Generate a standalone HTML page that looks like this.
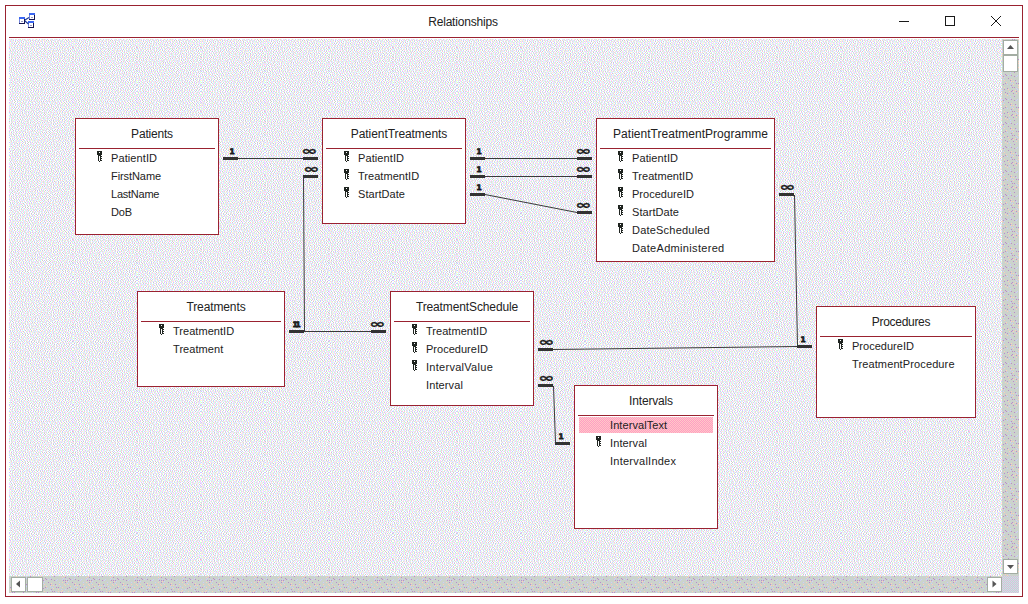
<!DOCTYPE html><html><head><meta charset="utf-8"><title>Relationships</title><style>
html,body{margin:0;padding:0;background:#fff;}
body{width:1028px;height:604px;position:relative;overflow:hidden;font-family:"Liberation Sans",sans-serif;color:#222;}
#win{position:absolute;left:5px;top:5px;width:1016px;height:590px;border:1px solid #9A2230;background:#fff;}
#sep{position:absolute;left:9px;top:37px;width:1010px;height:1px;background:#9A2230;}
#ttl{position:absolute;left:363px;top:13px;width:200px;height:18px;line-height:18px;text-align:center;font-size:12px;white-space:nowrap;}
svg{position:absolute;left:0;top:0;}
.t{position:absolute;box-sizing:border-box;border:1px solid #9A2230;background:#fff;}
.h{position:absolute;left:10px;right:0;top:1px;height:29px;line-height:29px;text-align:center;font-size:12px;white-space:nowrap;}
.u{position:absolute;left:3px;right:3px;top:29px;height:1px;background:#9A2230;}
.f{position:absolute;left:35px;height:18px;line-height:18px;font-size:11px;white-space:nowrap;}
.s{position:absolute;left:4px;right:4px;height:16px;background:repeating-conic-gradient(#FF9CC4 0 25%,#FFCAC6 0 50%) 0 0/2px 2px;}
</style></head><body>
<div id="win"></div><div id="sep"></div><div id="ttl" style="letter-spacing:-0.19px">Relationships</div>
<svg width="1028" height="604" viewBox="0 0 1028 604">
<defs><pattern id="d" x="9" y="39" width="64" height="64" patternUnits="userSpaceOnUse" shape-rendering="crispEdges"><rect width="64" height="64" fill="#fff"/><path fill="#FFCCFF" d="M0 0h1v1h-1zM4 0h1v1h-1zM7 0h1v1h-1zM10 0h1v1h-1zM18 0h1v1h-1zM23 0h1v1h-1zM42 0h1v1h-1zM45 0h1v1h-1zM53 0h1v1h-1zM1 1h1v1h-1zM10 1h1v1h-1zM15 1h1v1h-1zM17 1h1v1h-1zM25 1h1v1h-1zM32 1h1v1h-1zM35 1h1v1h-1zM43 1h1v1h-1zM45 1h1v1h-1zM48 1h1v1h-1zM50 1h1v1h-1zM52 1h1v1h-1zM55 1h1v1h-1zM3 2h1v1h-1zM12 2h1v1h-1zM27 2h1v1h-1zM31 2h1v1h-1zM33 2h1v1h-1zM36 2h1v1h-1zM39 2h1v1h-1zM49 2h1v1h-1zM52 2h1v1h-1zM54 2h1v1h-1zM0 3h1v1h-1zM2 3h1v1h-1zM5 3h1v1h-1zM16 3h1v1h-1zM20 3h1v1h-1zM23 3h1v1h-1zM26 3h1v1h-1zM35 3h1v1h-1zM38 3h1v1h-1zM40 3h1v1h-1zM46 3h1v1h-1zM48 3h1v1h-1zM51 3h1v1h-1zM55 3h1v1h-1zM57 3h1v1h-1zM62 3h1v1h-1zM10 4h1v1h-1zM17 4h1v1h-1zM23 4h1v1h-1zM25 4h1v1h-1zM30 4h1v1h-1zM41 4h1v1h-1zM44 4h1v1h-1zM53 4h1v1h-1zM56 4h1v1h-1zM60 4h1v1h-1zM62 4h1v1h-1zM0 5h1v1h-1zM2 5h1v1h-1zM12 5h1v1h-1zM28 5h1v1h-1zM30 5h1v1h-1zM33 5h1v1h-1zM35 5h1v1h-1zM38 5h1v1h-1zM40 5h1v1h-1zM42 5h1v1h-1zM44 5h1v1h-1zM48 5h1v1h-1zM59 5h1v1h-1zM61 5h1v1h-1zM2 6h1v1h-1zM6 6h1v1h-1zM14 6h1v1h-1zM18 6h1v1h-1zM20 6h1v1h-1zM23 6h1v1h-1zM26 6h1v1h-1zM31 6h1v1h-1zM36 6h1v1h-1zM38 6h1v1h-1zM0 7h1v1h-1zM3 7h1v1h-1zM5 7h1v1h-1zM11 7h1v1h-1zM22 7h1v1h-1zM24 7h1v1h-1zM27 7h1v1h-1zM29 7h1v1h-1zM50 7h1v1h-1zM61 7h1v1h-1zM9 8h1v1h-1zM15 8h1v1h-1zM17 8h2v1h-2zM20 8h1v1h-1zM35 8h1v1h-1zM37 8h1v1h-1zM40 8h1v1h-1zM42 8h1v1h-1zM46 8h1v1h-1zM48 8h1v1h-1zM55 8h1v1h-1zM57 8h1v1h-1zM3 9h1v1h-1zM11 9h1v1h-1zM16 9h1v1h-1zM32 9h1v1h-1zM34 9h1v1h-1zM36 9h1v1h-1zM41 9h1v1h-1zM43 9h1v1h-1zM47 9h1v1h-1zM50 9h1v1h-1zM63 9h1v1h-1zM1 10h1v1h-1zM4 10h1v1h-1zM7 10h1v1h-1zM17 10h1v1h-1zM20 10h1v1h-1zM30 10h1v1h-1zM37 10h1v1h-1zM41 10h1v1h-1zM52 10h1v1h-1zM3 11h1v1h-1zM11 11h1v1h-1zM13 11h1v1h-1zM16 11h1v1h-1zM40 11h1v1h-1zM43 11h1v1h-1zM45 11h1v1h-1zM55 11h1v1h-1zM0 12h1v1h-1zM4 12h1v1h-1zM6 12h1v1h-1zM14 12h1v1h-1zM23 12h1v1h-1zM30 12h1v1h-1zM32 12h1v1h-1zM37 12h1v1h-1zM41 12h1v1h-1zM44 12h1v1h-1zM46 12h1v1h-1zM54 12h1v1h-1zM56 12h1v1h-1zM63 12h1v1h-1zM1 13h1v1h-1zM10 13h1v1h-1zM14 13h1v1h-1zM16 13h1v1h-1zM27 13h1v1h-1zM34 13h1v1h-1zM37 13h1v1h-1zM43 13h1v1h-1zM4 14h1v1h-1zM9 14h1v1h-1zM13 14h1v1h-1zM15 14h1v1h-1zM21 14h1v1h-1zM23 14h1v1h-1zM33 14h1v1h-1zM35 14h1v1h-1zM40 14h1v1h-1zM46 14h1v1h-1zM52 14h1v1h-1zM56 14h1v1h-1zM58 14h1v1h-1zM2 15h1v1h-1zM11 15h1v1h-1zM23 15h1v1h-1zM26 15h1v1h-1zM32 15h1v1h-1zM37 15h1v1h-1zM39 15h1v1h-1zM42 15h1v1h-1zM44 15h1v1h-1zM47 15h1v1h-1zM51 15h1v1h-1zM3 16h1v1h-1zM7 16h1v1h-1zM14 16h1v1h-1zM20 16h1v1h-1zM22 16h1v1h-1zM24 16h1v1h-1zM29 16h1v1h-1zM31 16h1v1h-1zM35 16h1v1h-1zM38 16h1v1h-1zM41 16h1v1h-1zM44 16h1v1h-1zM46 16h1v1h-1zM7 17h1v1h-1zM10 17h1v1h-1zM13 17h1v1h-1zM15 17h1v1h-1zM18 17h1v1h-1zM35 17h1v1h-1zM37 17h1v1h-1zM47 17h1v1h-1zM49 17h1v1h-1zM59 17h1v1h-1zM3 18h2v1h-2zM6 18h1v1h-1zM15 18h1v1h-1zM17 18h1v1h-1zM19 18h1v1h-1zM22 18h1v1h-1zM26 18h1v1h-1zM29 18h1v1h-1zM34 18h1v1h-1zM36 18h1v1h-1zM46 18h1v1h-1zM51 18h1v1h-1zM53 18h1v1h-1zM57 18h1v1h-1zM59 18h1v1h-1zM61 18h1v1h-1zM63 18h1v1h-1zM0 19h1v1h-1zM2 19h1v1h-1zM18 19h1v1h-1zM38 19h1v1h-1zM40 19h1v1h-1zM59 19h1v1h-1zM10 20h1v1h-1zM17 20h1v1h-1zM19 20h1v1h-1zM26 20h1v1h-1zM28 20h1v1h-1zM30 20h1v1h-1zM33 20h1v1h-1zM36 20h1v1h-1zM39 20h1v1h-1zM51 20h1v1h-1zM56 20h1v1h-1zM12 21h1v1h-1zM15 21h1v1h-1zM17 21h1v1h-1zM20 21h1v1h-1zM23 21h2v1h-2zM29 21h1v1h-1zM32 21h1v1h-1zM35 21h1v1h-1zM37 21h1v1h-1zM39 21h1v1h-1zM41 21h1v1h-1zM47 21h1v1h-1zM50 21h1v1h-1zM56 21h1v1h-1zM59 21h1v1h-1zM0 22h1v1h-1zM5 22h1v1h-1zM8 22h1v1h-1zM10 22h1v1h-1zM12 22h1v1h-1zM14 22h1v1h-1zM19 22h1v1h-1zM27 22h1v1h-1zM34 22h1v1h-1zM37 22h1v1h-1zM40 22h1v1h-1zM42 22h1v1h-1zM52 22h1v1h-1zM58 22h1v1h-1zM60 22h1v1h-1zM2 23h1v1h-1zM7 23h1v1h-1zM13 23h1v1h-1zM18 23h1v1h-1zM22 23h1v1h-1zM24 23h1v1h-1zM33 23h1v1h-1zM45 23h1v1h-1zM49 23h1v1h-1zM0 24h1v1h-1zM5 24h1v1h-1zM19 24h1v1h-1zM26 24h1v1h-1zM33 24h1v1h-1zM41 24h1v1h-1zM44 24h1v1h-1zM46 24h1v1h-1zM48 24h1v1h-1zM51 24h1v1h-1zM56 24h1v1h-1zM62 24h1v1h-1zM0 25h1v1h-1zM7 25h1v1h-1zM16 25h1v1h-1zM22 25h1v1h-1zM25 25h1v1h-1zM28 25h1v1h-1zM30 25h1v1h-1zM36 25h1v1h-1zM41 25h1v1h-1zM45 25h1v1h-1zM55 25h1v1h-1zM59 25h1v1h-1zM61 25h1v1h-1zM63 25h1v1h-1zM6 26h1v1h-1zM8 26h1v1h-1zM10 26h1v1h-1zM13 26h1v1h-1zM23 26h1v1h-1zM35 26h1v1h-1zM42 26h1v1h-1zM50 26h1v1h-1zM57 26h1v1h-1zM62 26h1v1h-1zM0 27h1v1h-1zM15 27h1v1h-1zM21 27h1v1h-1zM30 27h1v1h-1zM51 27h1v1h-1zM53 27h1v1h-1zM58 27h1v1h-1zM2 28h1v1h-1zM4 28h1v1h-1zM7 28h1v1h-1zM12 28h1v1h-1zM19 28h1v1h-1zM24 28h1v1h-1zM28 28h1v1h-1zM31 28h1v1h-1zM33 28h1v1h-1zM37 28h1v1h-1zM46 28h1v1h-1zM48 28h1v1h-1zM53 28h1v1h-1zM58 28h1v1h-1zM60 28h1v1h-1zM5 29h1v1h-1zM9 29h1v1h-1zM20 29h1v1h-1zM22 29h1v1h-1zM30 29h1v1h-1zM43 29h1v1h-1zM51 29h1v1h-1zM57 29h1v1h-1zM61 29h1v1h-1zM0 30h1v1h-1zM2 30h1v1h-1zM4 30h1v1h-1zM7 30h1v1h-1zM23 30h1v1h-1zM25 30h1v1h-1zM27 30h1v1h-1zM29 30h1v1h-1zM43 30h1v1h-1zM46 30h1v1h-1zM51 30h1v1h-1zM53 30h1v1h-1zM56 30h1v1h-1zM58 30h1v1h-1zM1 31h1v1h-1zM6 31h1v1h-1zM9 31h1v1h-1zM19 31h1v1h-1zM22 31h1v1h-1zM24 31h1v1h-1zM28 31h1v1h-1zM33 31h1v1h-1zM42 31h1v1h-1zM44 31h1v1h-1zM49 31h1v1h-1zM60 31h1v1h-1zM11 32h1v1h-1zM16 32h1v1h-1zM23 32h1v1h-1zM27 32h1v1h-1zM29 32h1v1h-1zM35 32h1v1h-1zM45 32h1v1h-1zM47 32h1v1h-1zM50 32h1v1h-1zM53 32h1v1h-1zM63 32h1v1h-1zM2 33h1v1h-1zM4 33h1v1h-1zM7 33h1v1h-1zM12 33h1v1h-1zM14 33h1v1h-1zM20 33h1v1h-1zM22 33h1v1h-1zM26 33h1v1h-1zM31 33h1v1h-1zM39 33h1v1h-1zM49 33h1v1h-1zM55 33h1v1h-1zM3 34h1v1h-1zM8 34h1v1h-1zM18 34h1v1h-1zM25 34h1v1h-1zM28 34h1v1h-1zM37 34h1v1h-1zM47 34h1v1h-1zM53 34h1v1h-1zM57 34h1v1h-1zM60 34h1v1h-1zM4 35h1v1h-1zM7 35h1v1h-1zM18 35h1v1h-1zM20 35h1v1h-1zM36 35h1v1h-1zM38 35h1v1h-1zM46 35h1v1h-1zM48 35h1v1h-1zM55 35h1v1h-1zM63 35h1v1h-1zM11 36h1v1h-1zM13 36h1v1h-1zM25 36h1v1h-1zM27 36h1v1h-1zM34 36h1v1h-1zM36 36h1v1h-1zM39 36h1v1h-1zM43 36h1v1h-1zM52 36h1v1h-1zM55 36h1v1h-1zM57 36h1v1h-1zM59 36h1v1h-1zM61 36h1v1h-1zM1 37h1v1h-1zM7 37h1v1h-1zM10 37h1v1h-1zM18 37h1v1h-1zM20 37h1v1h-1zM23 37h1v1h-1zM28 37h1v1h-1zM32 37h1v1h-1zM35 37h1v1h-1zM38 37h1v1h-1zM47 37h1v1h-1zM5 38h1v1h-1zM7 38h1v1h-1zM9 38h1v1h-1zM21 38h1v1h-1zM26 38h1v1h-1zM29 38h1v1h-1zM31 38h1v1h-1zM34 38h1v1h-1zM36 38h1v1h-1zM43 38h1v1h-1zM45 38h1v1h-1zM47 38h1v1h-1zM49 38h1v1h-1zM52 38h1v1h-1zM54 38h1v1h-1zM57 38h1v1h-1zM59 38h1v1h-1zM61 38h1v1h-1zM63 38h1v1h-1zM2 39h1v1h-1zM6 39h1v1h-1zM10 39h1v1h-1zM12 39h1v1h-1zM25 39h1v1h-1zM27 39h1v1h-1zM44 39h1v1h-1zM62 39h1v1h-1zM2 40h1v1h-1zM7 40h1v1h-1zM22 40h1v1h-1zM30 40h1v1h-1zM42 40h1v1h-1zM45 40h1v1h-1zM51 40h1v1h-1zM63 40h1v1h-1zM1 41h1v1h-1zM3 41h1v1h-1zM9 41h1v1h-1zM23 41h1v1h-1zM26 41h1v1h-1zM29 41h1v1h-1zM31 41h1v1h-1zM34 41h1v1h-1zM36 41h1v1h-1zM38 41h1v1h-1zM44 41h1v1h-1zM46 41h1v1h-1zM3 42h1v1h-1zM6 42h1v1h-1zM10 42h1v1h-1zM14 42h1v1h-1zM16 42h1v1h-1zM20 42h1v1h-1zM28 42h1v1h-1zM31 42h1v1h-1zM45 42h1v1h-1zM48 42h1v1h-1zM57 42h1v1h-1zM60 42h1v1h-1zM62 42h1v1h-1zM1 43h1v1h-1zM7 43h1v1h-1zM13 43h1v1h-1zM17 43h1v1h-1zM24 43h1v1h-1zM32 43h1v1h-1zM43 43h1v1h-1zM61 43h1v1h-1zM13 44h1v1h-1zM15 44h1v1h-1zM18 44h1v1h-1zM24 44h1v1h-1zM30 44h1v1h-1zM33 44h1v1h-1zM36 44h1v1h-1zM39 44h1v1h-1zM41 44h1v1h-1zM50 44h1v1h-1zM52 44h1v1h-1zM57 44h1v1h-1zM59 44h1v1h-1zM62 44h1v1h-1zM2 45h1v1h-1zM4 45h1v1h-1zM6 45h1v1h-1zM15 45h1v1h-1zM17 45h1v1h-1zM29 45h1v1h-1zM32 45h1v1h-1zM42 45h1v1h-1zM47 45h1v1h-1zM49 45h1v1h-1zM55 45h1v1h-1zM57 45h1v1h-1zM63 45h1v1h-1zM8 46h1v1h-1zM18 46h1v1h-1zM27 46h1v1h-1zM30 46h1v1h-1zM33 46h1v1h-1zM40 46h1v1h-1zM46 46h1v1h-1zM1 47h1v1h-1zM3 47h1v1h-1zM6 47h1v1h-1zM8 47h1v1h-1zM11 47h1v1h-1zM17 47h1v1h-1zM19 47h1v1h-1zM38 47h1v1h-1zM41 47h1v1h-1zM45 47h1v1h-1zM47 47h1v1h-1zM52 47h1v1h-1zM56 47h1v1h-1zM59 47h1v1h-1zM62 47h1v1h-1zM18 48h1v1h-1zM44 48h1v1h-1zM49 48h1v1h-1zM54 48h1v1h-1zM61 48h1v1h-1zM8 49h1v1h-1zM11 49h1v1h-1zM17 49h1v1h-1zM20 49h1v1h-1zM24 49h1v1h-1zM27 49h1v1h-1zM30 49h1v1h-1zM35 49h1v1h-1zM38 49h1v1h-1zM40 49h1v1h-1zM43 49h1v1h-1zM50 49h1v1h-1zM53 49h1v1h-1zM6 50h1v1h-1zM13 50h1v1h-1zM16 50h1v1h-1zM25 50h1v1h-1zM27 50h1v1h-1zM29 50h1v1h-1zM34 50h1v1h-1zM36 50h1v1h-1zM41 50h1v1h-1zM45 50h1v1h-1zM48 50h1v1h-1zM55 50h1v1h-1zM60 50h1v1h-1zM2 51h1v1h-1zM7 51h1v1h-1zM14 51h1v1h-1zM24 51h1v1h-1zM31 51h1v1h-1zM33 51h1v1h-1zM41 51h1v1h-1zM44 51h1v1h-1zM47 51h1v1h-1zM49 51h1v1h-1zM62 51h1v1h-1zM13 52h1v1h-1zM17 52h1v1h-1zM19 52h1v1h-1zM35 52h1v1h-1zM45 52h1v1h-1zM52 52h1v1h-1zM55 52h1v1h-1zM61 52h1v1h-1zM3 53h1v1h-1zM5 53h1v1h-1zM7 53h1v1h-1zM14 53h1v1h-1zM22 53h1v1h-1zM24 53h1v1h-1zM27 53h1v1h-1zM41 53h1v1h-1zM44 53h1v1h-1zM46 53h1v1h-1zM57 53h1v1h-1zM59 53h1v1h-1zM61 53h1v1h-1zM1 54h1v1h-1zM7 54h1v1h-1zM9 54h1v1h-1zM12 54h1v1h-1zM15 54h1v1h-1zM20 54h1v1h-1zM37 54h1v1h-1zM42 54h1v1h-1zM51 54h1v1h-1zM54 54h1v1h-1zM60 54h1v1h-1zM1 55h1v1h-1zM3 55h1v1h-1zM15 55h1v1h-1zM18 55h1v1h-1zM25 55h1v1h-1zM27 55h1v1h-1zM39 55h1v1h-1zM52 55h1v1h-1zM57 55h1v1h-1zM59 55h1v1h-1zM0 56h1v1h-1zM3 56h1v1h-1zM5 56h1v1h-1zM13 56h1v1h-1zM16 56h1v1h-1zM18 56h1v1h-1zM24 56h1v1h-1zM29 56h1v1h-1zM31 56h1v1h-1zM33 56h1v1h-1zM45 56h1v1h-1zM49 56h1v1h-1zM51 56h1v1h-1zM56 56h1v1h-1zM58 56h1v1h-1zM62 56h1v1h-1zM5 57h1v1h-1zM10 57h1v1h-1zM14 57h1v1h-1zM19 57h1v1h-1zM22 57h1v1h-1zM28 57h1v1h-1zM40 57h1v1h-1zM43 57h1v1h-1zM48 57h1v1h-1zM56 57h1v1h-1zM59 57h1v1h-1zM61 57h1v1h-1zM63 57h1v1h-1zM3 58h1v1h-1zM11 58h1v1h-1zM16 58h1v1h-1zM18 58h1v1h-1zM20 58h1v1h-1zM23 58h1v1h-1zM28 58h1v1h-1zM30 58h1v1h-1zM33 58h1v1h-1zM44 58h1v1h-1zM52 58h1v1h-1zM55 58h1v1h-1zM63 58h1v1h-1zM1 59h1v1h-1zM6 59h1v1h-1zM10 59h1v1h-1zM15 59h1v1h-1zM19 59h1v1h-1zM22 59h1v1h-1zM24 59h1v1h-1zM34 59h1v1h-1zM38 59h1v1h-1zM40 59h1v1h-1zM49 59h1v1h-1zM54 59h1v1h-1zM56 59h1v1h-1zM58 59h1v1h-1zM61 59h1v1h-1zM63 59h1v1h-1zM0 60h1v1h-1zM16 60h1v1h-1zM18 60h1v1h-1zM20 60h1v1h-1zM26 60h1v1h-1zM29 60h1v1h-1zM32 60h1v1h-1zM47 60h1v1h-1zM52 60h1v1h-1zM55 60h1v1h-1zM60 60h1v1h-1zM0 61h1v1h-1zM13 61h1v1h-1zM16 61h1v1h-1zM18 61h1v1h-1zM25 61h1v1h-1zM28 61h1v1h-1zM31 61h1v1h-1zM34 61h1v1h-1zM39 61h1v1h-1zM48 61h1v1h-1zM54 61h1v1h-1zM56 61h1v1h-1zM1 62h1v1h-1zM9 62h1v1h-1zM17 62h1v1h-1zM20 62h1v1h-1zM22 62h1v1h-1zM24 62h1v1h-1zM26 62h1v1h-1zM42 62h1v1h-1zM46 62h1v1h-1zM52 62h1v1h-1zM61 62h1v1h-1zM2 63h1v1h-1zM14 63h1v1h-1zM32 63h1v1h-1zM34 63h1v1h-1zM37 63h1v1h-1zM40 63h1v1h-1zM43 63h1v1h-1zM48 63h1v1h-1zM50 63h1v1h-1zM57 63h1v1h-1zM63 63h1v1h-1z"/><path fill="#CCFFFF" d="M1 0h1v1h-1zM3 0h1v1h-1zM14 0h1v1h-1zM16 0h1v1h-1zM19 0h1v1h-1zM21 0h1v1h-1zM24 0h1v1h-1zM32 0h1v1h-1zM34 0h1v1h-1zM36 0h1v1h-1zM41 0h1v1h-1zM46 0h1v1h-1zM48 0h1v1h-1zM2 1h1v1h-1zM11 1h1v1h-1zM13 1h1v1h-1zM18 1h1v1h-1zM28 1h1v1h-1zM30 1h1v1h-1zM33 1h1v1h-1zM42 1h1v1h-1zM46 1h1v1h-1zM51 1h1v1h-1zM0 2h1v1h-1zM2 2h1v1h-1zM11 2h1v1h-1zM16 2h1v1h-1zM19 2h1v1h-1zM37 2h1v1h-1zM40 2h1v1h-1zM45 2h1v1h-1zM53 2h1v1h-1zM57 2h1v1h-1zM62 2h1v1h-1zM3 3h2v1h-2zM7 3h1v1h-1zM14 3h1v1h-1zM17 3h1v1h-1zM19 3h1v1h-1zM25 3h1v1h-1zM47 3h1v1h-1zM52 3h1v1h-1zM54 3h1v1h-1zM61 3h1v1h-1zM0 4h1v1h-1zM2 4h1v1h-1zM9 4h1v1h-1zM24 4h1v1h-1zM27 4h1v1h-1zM31 4h1v1h-1zM33 4h1v1h-1zM38 4h1v1h-1zM57 4h1v1h-1zM59 4h1v1h-1zM1 5h1v1h-1zM11 5h1v1h-1zM14 5h1v1h-1zM18 5h1v1h-1zM21 5h1v1h-1zM23 5h1v1h-1zM31 5h1v1h-1zM34 5h1v1h-1zM39 5h1v1h-1zM50 5h1v1h-1zM54 5h1v1h-1zM62 5h1v1h-1zM0 6h1v1h-1zM11 6h1v1h-1zM13 6h1v1h-1zM19 6h1v1h-1zM22 6h1v1h-1zM24 6h1v1h-1zM37 6h1v1h-1zM43 6h1v1h-1zM45 6h1v1h-1zM60 6h1v1h-1zM1 7h1v1h-1zM10 7h1v1h-1zM20 7h1v1h-1zM30 7h1v1h-1zM37 7h1v1h-1zM42 7h1v1h-1zM49 7h1v1h-1zM51 7h1v1h-1zM59 7h1v1h-1zM11 8h1v1h-1zM13 8h1v1h-1zM19 8h1v1h-1zM21 8h1v1h-1zM27 8h1v1h-1zM32 8h1v1h-1zM36 8h1v1h-1zM39 8h1v1h-1zM44 8h1v1h-1zM47 8h1v1h-1zM50 8h1v1h-1zM56 8h1v1h-1zM58 8h1v1h-1zM61 8h1v1h-1zM2 9h1v1h-1zM6 9h1v1h-1zM10 9h1v1h-1zM15 9h1v1h-1zM22 9h1v1h-1zM25 9h1v1h-1zM31 9h1v1h-1zM51 9h1v1h-1zM55 9h1v1h-1zM59 9h1v1h-1zM0 10h1v1h-1zM5 10h1v1h-1zM11 10h1v1h-1zM16 10h1v1h-1zM19 10h1v1h-1zM21 10h1v1h-1zM33 10h1v1h-1zM38 10h1v1h-1zM42 10h1v1h-1zM46 10h1v1h-1zM53 10h1v1h-1zM56 10h1v1h-1zM58 10h1v1h-1zM60 10h1v1h-1zM63 10h1v1h-1zM20 11h1v1h-1zM41 11h1v1h-1zM54 11h1v1h-1zM56 11h1v1h-1zM1 12h1v1h-1zM3 12h1v1h-1zM5 12h1v1h-1zM10 12h1v1h-1zM15 12h1v1h-1zM24 12h1v1h-1zM27 12h1v1h-1zM38 12h1v1h-1zM45 12h1v1h-1zM47 12h1v1h-1zM53 12h1v1h-1zM58 12h1v1h-1zM0 13h1v1h-1zM6 13h1v1h-1zM22 13h1v1h-1zM26 13h1v1h-1zM28 13h1v1h-1zM30 13h1v1h-1zM44 13h1v1h-1zM50 13h1v1h-1zM55 13h1v1h-1zM1 14h1v1h-1zM3 14h1v1h-1zM5 14h1v1h-1zM7 14h1v1h-1zM17 14h1v1h-1zM20 14h1v1h-1zM31 14h1v1h-1zM36 14h1v1h-1zM47 14h1v1h-1zM51 14h1v1h-1zM53 14h1v1h-1zM3 15h1v1h-1zM6 15h1v1h-1zM10 15h1v1h-1zM19 15h1v1h-1zM22 15h1v1h-1zM27 15h1v1h-1zM29 15h1v1h-1zM31 15h1v1h-1zM33 15h1v1h-1zM35 15h1v1h-1zM8 16h1v1h-1zM19 16h1v1h-1zM21 16h1v1h-1zM25 16h1v1h-1zM34 16h1v1h-1zM36 16h1v1h-1zM39 16h1v1h-1zM45 16h1v1h-1zM48 16h1v1h-1zM0 17h1v1h-1zM4 17h1v1h-1zM6 17h1v1h-1zM9 17h1v1h-1zM14 17h1v1h-1zM17 17h1v1h-1zM22 17h2v1h-2zM26 17h1v1h-1zM31 17h1v1h-1zM46 17h1v1h-1zM48 17h1v1h-1zM58 17h1v1h-1zM5 18h1v1h-1zM21 18h1v1h-1zM32 18h1v1h-1zM35 18h1v1h-1zM50 18h1v1h-1zM52 18h1v1h-1zM16 19h1v1h-1zM37 19h1v1h-1zM51 19h1v1h-1zM53 19h1v1h-1zM57 19h1v1h-1zM60 19h1v1h-1zM11 20h1v1h-1zM31 20h1v1h-1zM34 20h1v1h-1zM37 20h1v1h-1zM41 20h1v1h-1zM50 20h1v1h-1zM2 21h1v1h-1zM5 21h1v1h-1zM7 21h1v1h-1zM14 21h1v1h-1zM16 21h1v1h-1zM22 21h1v1h-1zM25 21h1v1h-1zM27 21h1v1h-1zM30 21h1v1h-1zM33 21h1v1h-1zM38 21h1v1h-1zM42 21h1v1h-1zM49 21h1v1h-1zM55 21h1v1h-1zM1 22h1v1h-1zM3 22h1v1h-1zM6 22h1v1h-1zM11 22h1v1h-1zM16 22h1v1h-1zM18 22h1v1h-1zM20 22h1v1h-1zM22 22h1v1h-1zM24 22h1v1h-1zM26 22h1v1h-1zM29 22h1v1h-1zM35 22h1v1h-1zM39 22h1v1h-1zM41 22h1v1h-1zM51 22h1v1h-1zM57 22h1v1h-1zM61 22h1v1h-1zM3 23h1v1h-1zM5 23h1v1h-1zM8 23h1v1h-1zM10 23h1v1h-1zM14 23h1v1h-1zM17 23h1v1h-1zM20 23h1v1h-1zM23 23h1v1h-1zM41 23h1v1h-1zM46 23h1v1h-1zM48 23h1v1h-1zM50 23h1v1h-1zM58 23h1v1h-1zM62 23h1v1h-1zM1 24h1v1h-1zM13 24h1v1h-1zM18 24h1v1h-1zM20 24h1v1h-1zM22 24h1v1h-1zM34 24h1v1h-1zM37 24h1v1h-1zM40 24h1v1h-1zM47 24h1v1h-1zM49 24h1v1h-1zM61 24h1v1h-1zM63 24h1v1h-1zM4 25h1v1h-1zM6 25h1v1h-1zM9 25h1v1h-1zM17 25h1v1h-1zM21 25h1v1h-1zM23 25h1v1h-1zM26 25h1v1h-1zM29 25h1v1h-1zM35 25h1v1h-1zM42 25h1v1h-1zM44 25h1v1h-1zM51 25h1v1h-1zM54 25h1v1h-1zM57 25h1v1h-1zM60 25h1v1h-1zM11 26h1v1h-1zM24 26h1v1h-1zM28 26h1v1h-1zM30 26h1v1h-1zM32 26h1v1h-1zM34 26h1v1h-1zM43 26h1v1h-1zM51 26h1v1h-1zM56 26h1v1h-1zM58 26h1v1h-1zM63 26h1v1h-1zM14 27h1v1h-1zM16 27h1v1h-1zM19 27h1v1h-1zM31 27h1v1h-1zM33 27h1v1h-1zM35 27h1v1h-1zM37 27h1v1h-1zM47 27h1v1h-1zM49 27h1v1h-1zM59 27h1v1h-1zM3 28h1v1h-1zM11 28h1v1h-1zM13 28h1v1h-1zM15 28h1v1h-1zM18 28h1v1h-1zM21 28h1v1h-1zM23 28h1v1h-1zM29 28h1v1h-1zM36 28h1v1h-1zM52 28h1v1h-1zM57 28h1v1h-1zM62 28h1v1h-1zM10 29h1v1h-1zM19 29h1v1h-1zM21 29h1v1h-1zM31 29h1v1h-1zM45 29h1v1h-1zM53 29h1v1h-1zM55 29h1v1h-1zM60 29h1v1h-1zM3 30h1v1h-1zM12 30h1v1h-1zM19 30h1v1h-1zM24 30h1v1h-1zM26 30h1v1h-1zM39 30h1v1h-1zM44 30h1v1h-1zM52 30h1v1h-1zM54 30h1v1h-1zM57 30h1v1h-1zM0 31h1v1h-1zM11 31h1v1h-1zM18 31h1v1h-1zM20 31h1v1h-1zM32 31h1v1h-1zM35 31h1v1h-1zM37 31h1v1h-1zM45 31h1v1h-1zM59 31h1v1h-1zM61 31h1v1h-1zM12 32h1v1h-1zM17 32h1v1h-1zM25 32h1v1h-1zM30 32h1v1h-1zM43 32h1v1h-1zM51 32h1v1h-1zM62 32h1v1h-1zM5 33h1v1h-1zM13 33h1v1h-1zM15 33h1v1h-1zM18 33h1v1h-1zM21 33h1v1h-1zM23 33h1v1h-1zM25 33h1v1h-1zM27 33h1v1h-1zM29 33h1v1h-1zM48 33h1v1h-1zM57 33h1v1h-1zM10 34h1v1h-1zM12 34h1v1h-1zM17 34h1v1h-1zM24 34h1v1h-1zM32 34h1v1h-1zM36 34h1v1h-1zM43 34h1v1h-1zM54 34h1v1h-1zM59 34h1v1h-1zM6 35h1v1h-1zM8 35h1v1h-1zM13 35h1v1h-1zM15 35h1v1h-1zM19 35h1v1h-1zM25 35h1v1h-1zM28 35h1v1h-1zM35 35h1v1h-1zM44 35h1v1h-1zM52 35h1v1h-1zM54 35h1v1h-1zM61 35h1v1h-1zM18 36h1v1h-1zM24 36h1v1h-1zM26 36h1v1h-1zM28 36h1v1h-1zM30 36h1v1h-1zM33 36h1v1h-1zM40 36h1v1h-1zM42 36h1v1h-1zM44 36h1v1h-1zM46 36h1v1h-1zM48 36h1v1h-1zM53 36h1v1h-1zM60 36h1v1h-1zM63 36h1v1h-1zM6 37h1v1h-1zM9 37h1v1h-1zM11 37h1v1h-1zM17 37h1v1h-1zM21 37h1v1h-1zM24 37h1v1h-1zM26 37h1v1h-1zM29 37h1v1h-1zM31 37h1v1h-1zM33 37h1v1h-1zM36 37h1v1h-1zM39 37h1v1h-1zM42 37h1v1h-1zM1 38h1v1h-1zM4 38h1v1h-1zM8 38h1v1h-1zM10 38h1v1h-1zM15 38h1v1h-1zM23 38h1v1h-1zM25 38h1v1h-1zM32 38h1v1h-1zM35 38h1v1h-1zM37 38h1v1h-1zM39 38h1v1h-1zM46 38h1v1h-1zM51 38h1v1h-1zM53 38h1v1h-1zM58 38h1v1h-1zM60 38h1v1h-1zM3 39h1v1h-1zM5 39h1v1h-1zM11 39h1v1h-1zM28 39h1v1h-1zM30 39h1v1h-1zM45 39h1v1h-1zM63 39h1v1h-1zM1 40h1v1h-1zM3 40h1v1h-1zM6 40h1v1h-1zM21 40h1v1h-1zM25 40h1v1h-1zM31 40h1v1h-1zM41 40h1v1h-1zM47 40h1v1h-1zM49 40h1v1h-1zM52 40h1v1h-1zM8 41h1v1h-1zM14 41h1v1h-1zM17 41h1v1h-1zM22 41h1v1h-1zM24 41h1v1h-1zM33 41h1v1h-1zM37 41h1v1h-1zM41 41h1v1h-1zM43 41h1v1h-1zM1 42h1v1h-1zM7 42h1v1h-1zM9 42h1v1h-1zM15 42h1v1h-1zM21 42h1v1h-1zM23 42h1v1h-1zM25 42h1v1h-1zM27 42h1v1h-1zM29 42h1v1h-1zM32 42h1v1h-1zM34 42h1v1h-1zM39 42h1v1h-1zM44 42h1v1h-1zM55 42h1v1h-1zM63 42h1v1h-1zM4 43h1v1h-1zM6 43h1v1h-1zM12 43h1v1h-1zM16 43h1v1h-1zM33 43h1v1h-1zM42 43h1v1h-1zM51 43h1v1h-1zM53 43h1v1h-1zM62 43h1v1h-1zM1 44h1v1h-1zM4 44h1v1h-1zM7 44h1v1h-1zM9 44h1v1h-1zM14 44h1v1h-1zM17 44h1v1h-1zM19 44h1v1h-1zM29 44h1v1h-1zM31 44h1v1h-1zM38 44h1v1h-1zM42 44h1v1h-1zM44 44h1v1h-1zM48 44h1v1h-1zM51 44h1v1h-1zM61 44h1v1h-1zM63 44h1v1h-1zM3 45h1v1h-1zM5 45h1v1h-1zM8 45h1v1h-1zM16 45h1v1h-1zM27 45h1v1h-1zM33 45h1v1h-1zM44 45h1v1h-1zM48 45h1v1h-1zM50 45h1v1h-1zM54 45h1v1h-1zM56 45h1v1h-1zM2 46h1v1h-1zM9 46h1v1h-1zM11 46h1v1h-1zM19 46h1v1h-1zM39 46h1v1h-1zM42 46h1v1h-1zM45 46h1v1h-1zM47 46h1v1h-1zM49 46h1v1h-1zM2 47h1v1h-1zM7 47h1v1h-1zM10 47h1v1h-1zM16 47h1v1h-1zM20 47h1v1h-1zM26 47h1v1h-1zM40 47h1v1h-1zM49 47h1v1h-1zM57 47h1v1h-1zM61 47h1v1h-1zM63 47h1v1h-1zM17 48h1v1h-1zM34 48h1v1h-1zM39 48h1v1h-1zM45 48h1v1h-1zM53 48h1v1h-1zM58 48h1v1h-1zM60 48h1v1h-1zM7 49h1v1h-1zM12 49h1v1h-1zM18 49h1v1h-1zM21 49h1v1h-1zM23 49h1v1h-1zM25 49h1v1h-1zM29 49h1v1h-1zM36 49h1v1h-1zM42 49h1v1h-1zM2 50h1v1h-1zM5 50h1v1h-1zM12 50h1v1h-1zM15 50h1v1h-1zM17 50h1v1h-1zM19 50h1v1h-1zM31 50h1v1h-1zM33 50h1v1h-1zM59 50h1v1h-1zM0 51h1v1h-1zM3 51h1v1h-1zM6 51h1v1h-1zM9 51h1v1h-1zM32 51h1v1h-1zM51 51h1v1h-1zM2 52h1v1h-1zM4 52h1v1h-1zM14 52h1v1h-1zM16 52h1v1h-1zM31 52h1v1h-1zM33 52h1v1h-1zM36 52h1v1h-1zM40 52h1v1h-1zM44 52h1v1h-1zM56 52h1v1h-1zM60 52h1v1h-1zM4 53h1v1h-1zM6 53h1v1h-1zM8 53h1v1h-1zM26 53h1v1h-1zM28 53h1v1h-1zM34 53h1v1h-1zM36 53h1v1h-1zM47 53h1v1h-1zM3 54h1v1h-1zM5 54h1v1h-1zM11 54h1v1h-1zM14 54h1v1h-1zM19 54h1v1h-1zM27 54h1v1h-1zM30 54h1v1h-1zM33 54h1v1h-1zM50 54h1v1h-1zM53 54h1v1h-1zM58 54h1v1h-1zM2 55h1v1h-1zM12 55h1v1h-1zM14 55h1v1h-1zM16 55h1v1h-1zM26 55h1v1h-1zM28 55h1v1h-1zM33 55h1v1h-1zM60 55h1v1h-1zM4 56h1v1h-1zM14 56h1v1h-1zM25 56h1v1h-1zM27 56h1v1h-1zM30 56h1v1h-1zM32 56h1v1h-1zM34 56h1v1h-1zM39 56h1v1h-1zM46 56h1v1h-1zM50 56h1v1h-1zM57 56h1v1h-1zM61 56h1v1h-1zM63 56h1v1h-1zM4 57h1v1h-1zM9 57h1v1h-1zM11 57h1v1h-1zM13 57h1v1h-1zM18 57h1v1h-1zM27 57h1v1h-1zM29 57h1v1h-1zM31 57h1v1h-1zM42 57h1v1h-1zM44 57h1v1h-1zM47 57h1v1h-1zM49 57h1v1h-1zM5 58h1v1h-1zM7 58h1v1h-1zM12 58h1v1h-1zM17 58h1v1h-1zM32 58h1v1h-1zM34 58h1v1h-1zM56 58h1v1h-1zM62 58h1v1h-1zM0 59h1v1h-1zM2 59h1v1h-1zM14 59h1v1h-1zM20 59h1v1h-1zM23 59h1v1h-1zM33 59h1v1h-1zM35 59h1v1h-1zM39 59h1v1h-1zM41 59h1v1h-1zM48 59h1v1h-1zM53 59h1v1h-1zM59 59h1v1h-1zM11 60h1v1h-1zM15 60h1v1h-1zM17 60h1v1h-1zM22 60h1v1h-1zM27 60h1v1h-1zM31 60h1v1h-1zM39 60h1v1h-1zM56 60h1v1h-1zM58 60h1v1h-1zM61 60h1v1h-1zM12 61h1v1h-1zM14 61h1v1h-1zM24 61h1v1h-1zM29 61h1v1h-1zM32 61h1v1h-1zM35 61h1v1h-1zM40 61h1v1h-1zM47 61h1v1h-1zM49 61h1v1h-1zM53 61h1v1h-1zM57 61h1v1h-1zM2 62h1v1h-1zM16 62h1v1h-1zM27 62h1v1h-1zM37 62h1v1h-1zM39 62h1v1h-1zM41 62h1v1h-1zM43 62h1v1h-1zM45 62h1v1h-1zM48 62h1v1h-1zM60 62h1v1h-1zM3 63h1v1h-1zM10 63h1v1h-1zM15 63h1v1h-1zM17 63h1v1h-1zM28 63h1v1h-1zM30 63h1v1h-1zM33 63h1v1h-1zM35 63h1v1h-1zM38 63h1v1h-1zM41 63h1v1h-1zM44 63h1v1h-1zM49 63h1v1h-1zM58 63h1v1h-1zM62 63h1v1h-1z"/><path fill="#FFCCCC" d="M2 0h1v1h-1zM13 0h1v1h-1zM15 0h1v1h-1zM20 0h1v1h-1zM33 0h1v1h-1zM35 0h1v1h-1zM47 0h1v1h-1zM12 1h1v1h-1zM19 1h1v1h-1zM29 1h1v1h-1zM41 1h1v1h-1zM1 2h1v1h-1zM17 2h1v1h-1zM46 2h1v1h-1zM58 2h1v1h-1zM63 2h1v1h-1zM8 3h1v1h-1zM18 3h1v1h-1zM3 4h1v1h-1zM14 4h1v1h-1zM32 4h1v1h-1zM37 4h1v1h-1zM19 5h1v1h-1zM22 5h1v1h-1zM10 6h1v1h-1zM12 6h1v1h-1zM44 6h1v1h-1zM38 7h1v1h-1zM43 7h1v1h-1zM52 7h1v1h-1zM60 7h1v1h-1zM0 8h1v1h-1zM12 8h1v1h-1zM22 8h1v1h-1zM26 8h1v1h-1zM31 8h1v1h-1zM51 8h1v1h-1zM59 8h1v1h-1zM5 9h1v1h-1zM21 9h1v1h-1zM24 9h1v1h-1zM56 9h1v1h-1zM58 9h1v1h-1zM10 10h1v1h-1zM15 10h1v1h-1zM32 10h1v1h-1zM55 10h1v1h-1zM59 10h1v1h-1zM62 10h1v1h-1zM19 11h1v1h-1zM53 11h1v1h-1zM57 11h1v1h-1zM2 12h1v1h-1zM26 12h1v1h-1zM28 12h1v1h-1zM49 12h1v1h-1zM59 12h1v1h-1zM5 13h1v1h-1zM20 13h1v1h-1zM29 13h1v1h-1zM51 13h1v1h-1zM53 13h1v1h-1zM2 14h1v1h-1zM6 14h1v1h-1zM18 14h1v1h-1zM30 14h1v1h-1zM61 14h1v1h-1zM4 15h1v1h-1zM20 15h1v1h-1zM28 15h1v1h-1zM34 15h1v1h-1zM0 16h1v1h-1zM9 16h1v1h-1zM18 16h1v1h-1zM49 16h1v1h-1zM21 17h1v1h-1zM25 17h1v1h-1zM32 17h1v1h-1zM49 18h1v1h-1zM50 19h1v1h-1zM52 19h1v1h-1zM42 20h1v1h-1zM1 21h1v1h-1zM4 21h1v1h-1zM6 21h1v1h-1zM26 21h1v1h-1zM2 22h1v1h-1zM17 22h1v1h-1zM21 22h1v1h-1zM25 22h1v1h-1zM30 22h1v1h-1zM50 22h1v1h-1zM56 22h1v1h-1zM4 23h1v1h-1zM9 23h1v1h-1zM16 23h1v1h-1zM40 23h1v1h-1zM47 23h1v1h-1zM61 23h1v1h-1zM63 23h1v1h-1zM14 24h1v1h-1zM21 24h1v1h-1zM23 24h1v1h-1zM35 24h1v1h-1zM39 24h1v1h-1zM5 25h1v1h-1zM10 25h1v1h-1zM19 25h1v1h-1zM43 25h1v1h-1zM52 25h1v1h-1zM29 26h1v1h-1zM31 26h1v1h-1zM33 26h1v1h-1zM55 26h1v1h-1zM59 26h1v1h-1zM18 27h1v1h-1zM34 27h1v1h-1zM36 27h1v1h-1zM48 27h1v1h-1zM63 27h1v1h-1zM10 28h1v1h-1zM14 28h1v1h-1zM16 28h1v1h-1zM22 28h1v1h-1zM11 29h1v1h-1zM18 29h1v1h-1zM54 29h1v1h-1zM20 30h1v1h-1zM38 30h1v1h-1zM45 30h1v1h-1zM12 31h1v1h-1zM31 31h1v1h-1zM36 31h1v1h-1zM18 32h1v1h-1zM61 32h1v1h-1zM17 33h1v1h-1zM24 33h1v1h-1zM11 34h1v1h-1zM13 34h1v1h-1zM15 34h1v1h-1zM44 34h1v1h-1zM9 35h1v1h-1zM24 35h1v1h-1zM26 35h1v1h-1zM33 35h1v1h-1zM43 35h1v1h-1zM53 35h1v1h-1zM17 36h1v1h-1zM29 36h1v1h-1zM32 36h1v1h-1zM41 36h1v1h-1zM45 36h1v1h-1zM25 37h1v1h-1zM30 37h1v1h-1zM40 37h1v1h-1zM2 38h1v1h-1zM16 38h1v1h-1zM38 38h1v1h-1zM4 39h1v1h-1zM29 39h1v1h-1zM5 40h1v1h-1zM24 40h1v1h-1zM48 40h1v1h-1zM15 41h1v1h-1zM21 41h1v1h-1zM40 41h1v1h-1zM42 41h1v1h-1zM8 42h1v1h-1zM24 42h1v1h-1zM26 42h1v1h-1zM33 42h1v1h-1zM54 42h1v1h-1zM5 43h1v1h-1zM34 43h1v1h-1zM52 43h1v1h-1zM3 44h1v1h-1zM6 44h1v1h-1zM8 44h1v1h-1zM28 44h1v1h-1zM43 44h1v1h-1zM9 45h1v1h-1zM45 45h1v1h-1zM10 46h1v1h-1zM15 46h1v1h-1zM20 46h1v1h-1zM43 46h1v1h-1zM48 46h1v1h-1zM50 46h1v1h-1zM39 47h1v1h-1zM25 48h1v1h-1zM33 48h1v1h-1zM35 48h1v1h-1zM57 48h1v1h-1zM59 48h1v1h-1zM22 49h1v1h-1zM1 50h1v1h-1zM3 50h1v1h-1zM18 50h1v1h-1zM32 50h1v1h-1zM58 50h1v1h-1zM5 51h1v1h-1zM52 51h1v1h-1zM3 52h1v1h-1zM9 52h1v1h-1zM11 52h1v1h-1zM32 52h1v1h-1zM29 53h1v1h-1zM33 53h1v1h-1zM35 53h1v1h-1zM37 53h1v1h-1zM4 54h1v1h-1zM28 54h1v1h-1zM32 54h1v1h-1zM11 55h1v1h-1zM13 55h1v1h-1zM29 55h1v1h-1zM34 55h1v1h-1zM49 55h1v1h-1zM61 55h1v1h-1zM26 56h1v1h-1zM32 57h1v1h-1zM46 57h1v1h-1zM6 58h1v1h-1zM8 58h1v1h-1zM13 58h1v1h-1zM35 58h1v1h-1zM32 59h1v1h-1zM12 60h1v1h-1zM14 60h1v1h-1zM23 60h1v1h-1zM35 60h1v1h-1zM40 60h1v1h-1zM57 60h1v1h-1zM3 62h1v1h-1zM28 62h1v1h-1zM36 62h1v1h-1zM38 62h1v1h-1zM40 62h1v1h-1zM44 62h1v1h-1zM49 62h1v1h-1zM59 62h1v1h-1zM16 63h1v1h-1zM29 63h1v1h-1z"/><path fill="#CCFFCC" d="M6 0h1v1h-1zM9 0h1v1h-1zM11 0h1v1h-1zM43 0h1v1h-1zM54 0h1v1h-1zM63 0h1v1h-1zM16 1h1v1h-1zM44 1h1v1h-1zM49 1h1v1h-1zM53 1h1v1h-1zM26 2h1v1h-1zM32 2h1v1h-1zM35 2h1v1h-1zM48 2h1v1h-1zM51 2h1v1h-1zM55 2h1v1h-1zM22 3h1v1h-1zM36 3h1v1h-1zM39 3h1v1h-1zM49 3h1v1h-1zM56 3h1v1h-1zM16 4h1v1h-1zM40 4h1v1h-1zM42 4h1v1h-1zM45 4h1v1h-1zM63 4h1v1h-1zM29 5h1v1h-1zM36 5h1v1h-1zM43 5h1v1h-1zM60 5h1v1h-1zM3 6h1v1h-1zM5 6h1v1h-1zM27 6h1v1h-1zM32 6h1v1h-1zM39 6h1v1h-1zM6 7h1v1h-1zM17 7h1v1h-1zM23 7h1v1h-1zM25 7h1v1h-1zM28 7h1v1h-1zM4 8h1v1h-1zM16 8h1v1h-1zM41 8h1v1h-1zM17 9h1v1h-1zM33 9h1v1h-1zM35 9h1v1h-1zM37 9h1v1h-1zM42 9h1v1h-1zM48 9h1v1h-1zM3 10h1v1h-1zM8 10h1v1h-1zM4 11h1v1h-1zM14 11h1v1h-1zM17 11h1v1h-1zM29 11h1v1h-1zM44 11h1v1h-1zM51 11h1v1h-1zM63 11h1v1h-1zM13 12h1v1h-1zM31 12h1v1h-1zM33 12h1v1h-1zM40 12h1v1h-1zM43 12h1v1h-1zM55 12h1v1h-1zM3 13h1v1h-1zM15 13h1v1h-1zM36 13h1v1h-1zM62 13h1v1h-1zM10 14h1v1h-1zM12 14h1v1h-1zM14 14h1v1h-1zM22 14h1v1h-1zM34 14h1v1h-1zM41 14h1v1h-1zM57 14h1v1h-1zM59 14h1v1h-1zM15 15h1v1h-1zM24 15h1v1h-1zM38 15h1v1h-1zM40 15h1v1h-1zM43 15h1v1h-1zM46 15h1v1h-1zM52 15h1v1h-1zM63 15h1v1h-1zM2 16h1v1h-1zM13 16h1v1h-1zM30 16h1v1h-1zM42 16h1v1h-1zM12 17h1v1h-1zM19 17h1v1h-1zM36 17h1v1h-1zM38 17h1v1h-1zM50 17h1v1h-1zM61 17h1v1h-1zM2 18h1v1h-1zM16 18h1v1h-1zM18 18h1v1h-1zM27 18h1v1h-1zM47 18h1v1h-1zM58 18h1v1h-1zM60 18h1v1h-1zM3 19h1v1h-1zM19 19h1v1h-1zM39 19h1v1h-1zM0 20h1v1h-1zM18 20h1v1h-1zM24 20h1v1h-1zM27 20h1v1h-1zM29 20h1v1h-1zM19 21h1v1h-1zM36 21h1v1h-1zM40 21h1v1h-1zM46 21h1v1h-1zM51 21h1v1h-1zM57 21h1v1h-1zM60 21h1v1h-1zM9 22h1v1h-1zM13 22h1v1h-1zM59 22h1v1h-1zM0 23h1v1h-1zM12 23h1v1h-1zM32 23h1v1h-1zM34 23h1v1h-1zM6 24h1v1h-1zM25 24h1v1h-1zM42 24h1v1h-1zM45 24h1v1h-1zM55 24h1v1h-1zM7 26h1v1h-1zM9 26h1v1h-1zM22 26h1v1h-1zM41 26h1v1h-1zM61 26h1v1h-1zM1 27h1v1h-1zM52 27h1v1h-1zM54 27h1v1h-1zM6 28h1v1h-1zM8 28h1v1h-1zM32 28h1v1h-1zM47 28h1v1h-1zM59 28h1v1h-1zM0 29h1v1h-1zM4 29h1v1h-1zM24 29h1v1h-1zM29 29h1v1h-1zM42 29h1v1h-1zM50 29h1v1h-1zM58 29h1v1h-1zM6 30h1v1h-1zM8 30h1v1h-1zM22 30h1v1h-1zM28 30h1v1h-1zM47 30h1v1h-1zM2 31h1v1h-1zM7 31h1v1h-1zM23 31h1v1h-1zM29 31h1v1h-1zM43 31h1v1h-1zM50 31h1v1h-1zM22 32h1v1h-1zM28 32h1v1h-1zM34 32h1v1h-1zM46 32h1v1h-1zM49 32h1v1h-1zM54 32h1v1h-1zM1 33h1v1h-1zM3 33h1v1h-1zM8 33h1v1h-1zM38 33h1v1h-1zM63 33h1v1h-1zM7 34h1v1h-1zM19 34h1v1h-1zM46 34h1v1h-1zM3 35h1v1h-1zM37 35h1v1h-1zM47 35h1v1h-1zM57 35h1v1h-1zM10 36h1v1h-1zM35 36h1v1h-1zM38 36h1v1h-1zM56 36h1v1h-1zM2 37h1v1h-1zM20 38h1v1h-1zM28 38h1v1h-1zM44 38h1v1h-1zM48 38h1v1h-1zM55 38h1v1h-1zM62 38h1v1h-1zM7 39h1v1h-1zM26 39h1v1h-1zM44 40h1v1h-1zM62 40h1v1h-1zM2 41h1v1h-1zM10 41h1v1h-1zM28 41h1v1h-1zM30 41h1v1h-1zM35 41h1v1h-1zM45 41h1v1h-1zM4 42h1v1h-1zM47 42h1v1h-1zM58 42h1v1h-1zM61 42h1v1h-1zM0 43h1v1h-1zM14 43h1v1h-1zM25 43h1v1h-1zM23 44h1v1h-1zM32 44h1v1h-1zM35 44h1v1h-1zM58 44h1v1h-1zM14 45h1v1h-1zM30 45h1v1h-1zM41 45h1v1h-1zM59 45h1v1h-1zM7 46h1v1h-1zM17 46h1v1h-1zM29 46h1v1h-1zM32 46h1v1h-1zM18 47h1v1h-1zM37 47h1v1h-1zM46 47h1v1h-1zM51 47h1v1h-1zM3 48h1v1h-1zM43 48h1v1h-1zM55 48h1v1h-1zM62 48h1v1h-1zM9 49h1v1h-1zM26 49h1v1h-1zM34 49h1v1h-1zM39 49h1v1h-1zM49 49h1v1h-1zM52 49h1v1h-1zM24 50h1v1h-1zM28 50h1v1h-1zM40 50h1v1h-1zM42 50h1v1h-1zM44 50h1v1h-1zM47 50h1v1h-1zM54 50h1v1h-1zM56 50h1v1h-1zM13 51h1v1h-1zM25 51h1v1h-1zM34 51h1v1h-1zM45 51h1v1h-1zM48 51h1v1h-1zM61 51h1v1h-1zM18 52h1v1h-1zM53 52h1v1h-1zM11 53h1v1h-1zM13 53h1v1h-1zM21 53h1v1h-1zM23 53h1v1h-1zM42 53h1v1h-1zM45 53h1v1h-1zM60 53h1v1h-1zM62 53h1v1h-1zM8 54h1v1h-1zM38 54h1v1h-1zM43 54h1v1h-1zM59 54h1v1h-1zM0 55h1v1h-1zM51 55h1v1h-1zM56 55h1v1h-1zM63 55h1v1h-1zM2 56h1v1h-1zM6 56h1v1h-1zM17 56h1v1h-1zM19 56h1v1h-1zM23 56h1v1h-1zM48 56h1v1h-1zM55 56h1v1h-1zM59 56h1v1h-1zM0 57h1v1h-1zM21 57h1v1h-1zM57 57h1v1h-1zM60 57h1v1h-1zM10 58h1v1h-1zM15 58h1v1h-1zM19 58h1v1h-1zM22 58h1v1h-1zM24 58h1v1h-1zM29 58h1v1h-1zM45 58h1v1h-1zM53 58h1v1h-1zM8 59h1v1h-1zM18 59h1v1h-1zM37 59h1v1h-1zM55 59h1v1h-1zM62 59h1v1h-1zM19 60h1v1h-1zM25 60h1v1h-1zM33 60h1v1h-1zM48 60h1v1h-1zM53 60h1v1h-1zM1 61h1v1h-1zM17 61h1v1h-1zM27 61h1v1h-1zM55 61h1v1h-1zM8 62h1v1h-1zM19 62h1v1h-1zM21 62h1v1h-1zM25 62h1v1h-1zM51 62h1v1h-1zM22 63h1v1h-1z"/><path fill="#FFFFCC" d="M26 0h1v1h-1zM28 0h1v1h-1zM51 0h1v1h-1zM58 0h1v1h-1zM0 1h1v1h-1zM3 1h1v1h-1zM22 1h1v1h-1zM24 1h1v1h-1zM31 1h1v1h-1zM34 1h1v1h-1zM60 1h1v1h-1zM4 2h1v1h-1zM8 2h1v1h-1zM10 2h1v1h-1zM20 2h1v1h-1zM28 2h1v1h-1zM38 2h1v1h-1zM61 2h1v1h-1zM24 3h1v1h-1zM43 3h1v1h-1zM53 3h1v1h-1zM60 3h1v1h-1zM1 4h1v1h-1zM11 4h1v1h-1zM26 4h1v1h-1zM28 4h1v1h-1zM34 4h1v1h-1zM54 4h1v1h-1zM58 4h1v1h-1zM13 5h1v1h-1zM17 5h1v1h-1zM24 5h1v1h-1zM49 5h1v1h-1zM53 5h1v1h-1zM56 5h1v1h-1zM1 6h1v1h-1zM7 6h1v1h-1zM15 6h1v1h-1zM21 6h1v1h-1zM30 6h1v1h-1zM51 6h1v1h-1zM61 6h1v1h-1zM63 6h1v1h-1zM2 7h1v1h-1zM14 7h1v1h-1zM19 7h1v1h-1zM36 7h1v1h-1zM46 7h1v1h-1zM56 7h1v1h-1zM8 8h1v1h-1zM10 8h1v1h-1zM49 8h1v1h-1zM1 9h1v1h-1zM28 9h1v1h-1zM30 9h1v1h-1zM44 9h1v1h-1zM46 9h1v1h-1zM52 9h1v1h-1zM54 9h1v1h-1zM6 10h1v1h-1zM12 10h1v1h-1zM22 10h1v1h-1zM27 10h1v1h-1zM40 10h1v1h-1zM23 11h1v1h-1zM38 11h1v1h-1zM42 11h1v1h-1zM46 11h1v1h-1zM48 11h1v1h-1zM7 12h1v1h-1zM18 12h1v1h-1zM17 13h1v1h-1zM23 13h1v1h-1zM38 13h1v1h-1zM42 13h1v1h-1zM45 13h1v1h-1zM47 13h1v1h-1zM56 13h1v1h-1zM0 14h1v1h-1zM27 14h1v1h-1zM32 14h1v1h-1zM36 15h1v1h-1zM50 15h1v1h-1zM56 15h1v1h-1zM6 16h1v1h-1zM23 16h1v1h-1zM26 16h1v1h-1zM32 16h1v1h-1zM47 16h1v1h-1zM54 16h1v1h-1zM59 16h1v1h-1zM61 16h1v1h-1zM3 17h1v1h-1zM5 17h1v1h-1zM34 17h1v1h-1zM52 17h1v1h-1zM55 17h1v1h-1zM57 17h1v1h-1zM14 18h1v1h-1zM23 18h1v1h-1zM31 18h1v1h-1zM37 18h1v1h-1zM42 18h1v1h-1zM45 18h1v1h-1zM54 18h1v1h-1zM5 19h1v1h-1zM7 19h1v1h-1zM11 19h1v1h-1zM29 19h1v1h-1zM41 19h1v1h-1zM44 19h1v1h-1zM56 19h1v1h-1zM61 19h1v1h-1zM63 19h1v1h-1zM9 20h1v1h-1zM12 20h1v1h-1zM14 20h1v1h-1zM16 20h1v1h-1zM22 20h1v1h-1zM32 20h1v1h-1zM38 20h1v1h-1zM47 20h1v1h-1zM49 20h1v1h-1zM55 20h1v1h-1zM59 20h1v1h-1zM11 21h1v1h-1zM31 21h1v1h-1zM34 21h1v1h-1zM7 22h1v1h-1zM15 22h1v1h-1zM23 22h1v1h-1zM38 22h1v1h-1zM43 22h1v1h-1zM19 23h1v1h-1zM44 23h1v1h-1zM51 23h1v1h-1zM57 23h1v1h-1zM17 24h1v1h-1zM30 24h1v1h-1zM32 24h1v1h-1zM50 24h1v1h-1zM60 24h1v1h-1zM1 25h1v1h-1zM24 25h1v1h-1zM27 25h1v1h-1zM34 25h1v1h-1zM37 25h1v1h-1zM40 25h1v1h-1zM47 25h1v1h-1zM56 25h1v1h-1zM58 25h1v1h-1zM62 25h1v1h-1zM15 26h1v1h-1zM17 26h1v1h-1zM38 26h1v1h-1zM11 27h1v1h-1zM13 27h1v1h-1zM27 27h1v1h-1zM50 27h1v1h-1zM57 27h1v1h-1zM20 28h1v1h-1zM25 28h1v1h-1zM30 28h1v1h-1zM38 28h1v1h-1zM61 28h1v1h-1zM44 29h1v1h-1zM52 29h1v1h-1zM56 29h1v1h-1zM1 30h1v1h-1zM13 30h1v1h-1zM15 30h1v1h-1zM32 30h1v1h-1zM55 30h1v1h-1zM17 31h1v1h-1zM25 31h1v1h-1zM34 31h1v1h-1zM48 31h1v1h-1zM56 31h1v1h-1zM58 31h1v1h-1zM10 32h1v1h-1zM13 32h1v1h-1zM15 32h1v1h-1zM26 32h1v1h-1zM44 32h1v1h-1zM6 33h1v1h-1zM30 33h1v1h-1zM32 33h1v1h-1zM36 33h1v1h-1zM41 33h1v1h-1zM56 33h1v1h-1zM58 33h1v1h-1zM60 33h1v1h-1zM23 34h1v1h-1zM29 34h1v1h-1zM35 34h1v1h-1zM48 34h1v1h-1zM50 34h1v1h-1zM55 34h1v1h-1zM5 35h1v1h-1zM41 35h1v1h-1zM51 35h1v1h-1zM7 36h1v1h-1zM12 36h1v1h-1zM19 36h1v1h-1zM21 36h1v1h-1zM23 36h1v1h-1zM49 36h1v1h-1zM54 36h1v1h-1zM62 36h1v1h-1zM0 37h1v1h-1zM8 37h1v1h-1zM14 37h1v1h-1zM22 37h1v1h-1zM27 37h1v1h-1zM34 37h1v1h-1zM37 37h1v1h-1zM43 37h1v1h-1zM46 37h1v1h-1zM50 37h1v1h-1zM52 37h1v1h-1zM57 37h1v1h-1zM59 37h1v1h-1zM6 38h1v1h-1zM11 38h1v1h-1zM24 38h1v1h-1zM33 38h1v1h-1zM1 39h1v1h-1zM9 39h1v1h-1zM15 39h1v1h-1zM22 39h1v1h-1zM31 39h1v1h-1zM35 39h1v1h-1zM46 39h1v1h-1zM49 39h1v1h-1zM51 39h1v1h-1zM58 39h1v1h-1zM60 39h1v1h-1zM11 40h1v1h-1zM34 40h1v1h-1zM37 40h1v1h-1zM0 41h1v1h-1zM6 41h1v1h-1zM32 41h1v1h-1zM49 41h1v1h-1zM51 41h1v1h-1zM60 41h1v1h-1zM63 41h1v1h-1zM11 42h1v1h-1zM13 42h1v1h-1zM17 42h1v1h-1zM22 42h1v1h-1zM36 42h1v1h-1zM38 42h1v1h-1zM43 42h1v1h-1zM18 43h1v1h-1zM20 43h1v1h-1zM28 43h1v1h-1zM39 43h1v1h-1zM41 43h1v1h-1zM48 43h1v1h-1zM50 43h1v1h-1zM60 43h1v1h-1zM63 43h1v1h-1zM12 44h1v1h-1zM16 44h1v1h-1zM37 44h1v1h-1zM49 44h1v1h-1zM53 44h1v1h-1zM56 44h1v1h-1zM1 45h1v1h-1zM18 45h1v1h-1zM24 45h1v1h-1zM26 45h1v1h-1zM51 45h1v1h-1zM3 46h1v1h-1zM12 46h1v1h-1zM34 46h1v1h-1zM54 46h1v1h-1zM0 47h1v1h-1zM9 47h1v1h-1zM13 47h1v1h-1zM23 47h1v1h-1zM30 47h1v1h-1zM44 47h1v1h-1zM53 47h1v1h-1zM60 47h1v1h-1zM7 48h1v1h-1zM16 48h1v1h-1zM19 48h1v1h-1zM21 48h1v1h-1zM50 48h1v1h-1zM4 49h1v1h-1zM6 49h1v1h-1zM13 49h1v1h-1zM15 49h1v1h-1zM37 49h1v1h-1zM7 50h1v1h-1zM11 50h1v1h-1zM14 50h1v1h-1zM20 50h1v1h-1zM30 50h1v1h-1zM35 50h1v1h-1zM8 51h1v1h-1zM20 51h1v1h-1zM37 51h1v1h-1zM50 51h1v1h-1zM55 51h1v1h-1zM1 52h1v1h-1zM28 52h1v1h-1zM30 52h1v1h-1zM39 52h1v1h-1zM41 52h1v1h-1zM43 52h1v1h-1zM46 52h1v1h-1zM0 53h1v1h-1zM15 53h1v1h-1zM48 53h1v1h-1zM50 53h1v1h-1zM54 53h1v1h-1zM56 53h1v1h-1zM2 54h1v1h-1zM6 54h1v1h-1zM10 54h1v1h-1zM16 54h1v1h-1zM18 54h1v1h-1zM26 54h1v1h-1zM52 54h1v1h-1zM4 55h1v1h-1zM22 55h1v1h-1zM24 55h1v1h-1zM45 55h1v1h-1zM58 55h1v1h-1zM10 56h1v1h-1zM15 56h1v1h-1zM28 56h1v1h-1zM40 56h1v1h-1zM42 56h1v1h-1zM44 56h1v1h-1zM52 56h1v1h-1zM3 57h1v1h-1zM12 57h1v1h-1zM25 57h1v1h-1zM30 57h1v1h-1zM34 57h1v1h-1zM36 57h1v1h-1zM50 57h1v1h-1zM62 57h1v1h-1zM4 58h1v1h-1zM27 58h1v1h-1zM39 58h1v1h-1zM41 58h1v1h-1zM43 58h1v1h-1zM49 58h1v1h-1zM11 59h1v1h-1zM16 59h1v1h-1zM42 59h1v1h-1zM47 59h1v1h-1zM60 59h1v1h-1zM4 60h1v1h-1zM6 60h1v1h-1zM21 60h1v1h-1zM28 60h1v1h-1zM38 60h1v1h-1zM59 60h1v1h-1zM11 61h1v1h-1zM15 61h1v1h-1zM30 61h1v1h-1zM41 61h1v1h-1zM46 61h1v1h-1zM52 61h1v1h-1zM60 61h1v1h-1zM10 62h1v1h-1zM23 62h1v1h-1zM1 63h1v1h-1zM11 63h1v1h-1zM13 63h1v1h-1zM31 63h1v1h-1zM42 63h1v1h-1zM45 63h1v1h-1zM47 63h1v1h-1zM53 63h1v1h-1zM61 63h1v1h-1z"/><path fill="#CCCCFF" d="M27 0h1v1h-1zM30 0h1v1h-1zM38 0h1v1h-1zM50 0h1v1h-1zM59 0h1v1h-1zM61 0h1v1h-1zM4 1h1v1h-1zM6 1h1v1h-1zM8 1h1v1h-1zM21 1h1v1h-1zM23 1h1v1h-1zM26 1h1v1h-1zM59 1h1v1h-1zM62 1h1v1h-1zM9 2h1v1h-1zM21 2h1v1h-1zM24 2h1v1h-1zM29 2h1v1h-1zM60 2h1v1h-1zM10 3h1v1h-1zM28 3h1v1h-1zM33 3h1v1h-1zM42 3h1v1h-1zM44 3h1v1h-1zM59 3h1v1h-1zM13 4h1v1h-1zM19 4h1v1h-1zM35 4h1v1h-1zM49 4h1v1h-1zM4 5h1v1h-1zM6 5h1v1h-1zM16 5h1v1h-1zM25 5h1v1h-1zM27 5h1v1h-1zM52 5h1v1h-1zM55 5h1v1h-1zM57 5h1v1h-1zM8 6h1v1h-1zM16 6h1v1h-1zM29 6h1v1h-1zM50 6h1v1h-1zM53 6h1v1h-1zM55 6h1v1h-1zM62 6h1v1h-1zM8 7h1v1h-1zM13 7h1v1h-1zM15 7h1v1h-1zM35 7h1v1h-1zM40 7h1v1h-1zM45 7h1v1h-1zM47 7h1v1h-1zM57 7h1v1h-1zM63 7h1v1h-1zM2 8h1v1h-1zM5 8h1v1h-1zM7 8h1v1h-1zM24 8h1v1h-1zM30 8h1v1h-1zM53 8h1v1h-1zM0 9h1v1h-1zM8 9h1v1h-1zM27 9h1v1h-1zM29 9h1v1h-1zM45 9h1v1h-1zM53 9h1v1h-1zM13 10h1v1h-1zM23 10h1v1h-1zM25 10h1v1h-1zM28 10h1v1h-1zM44 10h1v1h-1zM48 10h1v1h-1zM6 11h1v1h-1zM22 11h1v1h-1zM27 11h1v1h-1zM31 11h1v1h-1zM34 11h1v1h-1zM39 11h1v1h-1zM47 11h1v1h-1zM49 11h1v1h-1zM59 11h1v1h-1zM61 11h1v1h-1zM8 12h1v1h-1zM17 12h1v1h-1zM19 12h1v1h-1zM51 12h1v1h-1zM12 13h1v1h-1zM18 13h1v1h-1zM24 13h1v1h-1zM32 13h1v1h-1zM39 13h1v1h-1zM41 13h1v1h-1zM48 13h1v1h-1zM57 13h1v1h-1zM60 13h1v1h-1zM28 14h1v1h-1zM38 14h1v1h-1zM43 14h1v1h-1zM62 14h1v1h-1zM0 15h1v1h-1zM13 15h1v1h-1zM17 15h1v1h-1zM49 15h1v1h-1zM55 15h1v1h-1zM58 15h1v1h-1zM60 15h1v1h-1zM5 16h1v1h-1zM27 16h1v1h-1zM51 16h1v1h-1zM53 16h1v1h-1zM55 16h1v1h-1zM57 16h1v1h-1zM60 16h1v1h-1zM62 16h1v1h-1zM2 17h1v1h-1zM33 17h1v1h-1zM42 17h1v1h-1zM53 17h1v1h-1zM56 17h1v1h-1zM12 18h1v1h-1zM24 18h1v1h-1zM30 18h1v1h-1zM38 18h1v1h-1zM41 18h1v1h-1zM44 18h1v1h-1zM55 18h1v1h-1zM6 19h1v1h-1zM9 19h1v1h-1zM12 19h1v1h-1zM14 19h1v1h-1zM23 19h1v1h-1zM28 19h1v1h-1zM31 19h1v1h-1zM42 19h1v1h-1zM45 19h1v1h-1zM48 19h1v1h-1zM55 19h1v1h-1zM62 19h1v1h-1zM4 20h1v1h-1zM6 20h1v1h-1zM8 20h1v1h-1zM13 20h1v1h-1zM15 20h1v1h-1zM21 20h1v1h-1zM44 20h1v1h-1zM46 20h1v1h-1zM48 20h1v1h-1zM54 20h1v1h-1zM58 20h1v1h-1zM60 20h1v1h-1zM63 20h1v1h-1zM9 21h1v1h-1zM32 22h1v1h-1zM45 22h1v1h-1zM63 22h1v1h-1zM30 23h1v1h-1zM38 23h1v1h-1zM43 23h1v1h-1zM52 23h1v1h-1zM55 23h1v1h-1zM11 24h1v1h-1zM16 24h1v1h-1zM28 24h1v1h-1zM31 24h1v1h-1zM57 24h1v1h-1zM59 24h1v1h-1zM2 25h1v1h-1zM14 25h1v1h-1zM32 25h1v1h-1zM38 25h1v1h-1zM1 26h1v1h-1zM16 26h1v1h-1zM18 26h1v1h-1zM26 26h1v1h-1zM37 26h1v1h-1zM39 26h1v1h-1zM48 26h1v1h-1zM53 26h1v1h-1zM6 27h1v1h-1zM9 27h1v1h-1zM12 27h1v1h-1zM28 27h1v1h-1zM56 27h1v1h-1zM61 27h1v1h-1zM0 28h1v1h-1zM26 28h1v1h-1zM39 28h1v1h-1zM41 28h1v1h-1zM44 28h1v1h-1zM50 28h1v1h-1zM55 28h1v1h-1zM7 29h1v1h-1zM13 29h1v1h-1zM14 30h1v1h-1zM17 30h1v1h-1zM31 30h1v1h-1zM34 30h1v1h-1zM36 30h1v1h-1zM49 30h1v1h-1zM14 31h1v1h-1zM16 31h1v1h-1zM26 31h1v1h-1zM47 31h1v1h-1zM55 31h1v1h-1zM57 31h1v1h-1zM0 32h1v1h-1zM2 32h1v1h-1zM7 32h1v1h-1zM9 32h1v1h-1zM14 32h1v1h-1zM32 32h1v1h-1zM37 32h1v1h-1zM41 32h1v1h-1zM56 32h1v1h-1zM58 32h1v1h-1zM10 33h1v1h-1zM33 33h1v1h-1zM35 33h1v1h-1zM42 33h1v1h-1zM44 33h1v1h-1zM46 33h1v1h-1zM59 33h1v1h-1zM61 33h1v1h-1zM0 34h1v1h-1zM5 34h1v1h-1zM30 34h1v1h-1zM34 34h1v1h-1zM41 34h1v1h-1zM49 34h1v1h-1zM51 34h1v1h-1zM56 34h1v1h-1zM11 35h1v1h-1zM22 35h1v1h-1zM40 35h1v1h-1zM50 35h1v1h-1zM1 36h1v1h-1zM3 36h1v1h-1zM5 36h1v1h-1zM8 36h1v1h-1zM20 36h1v1h-1zM22 36h1v1h-1zM50 36h1v1h-1zM12 37h1v1h-1zM15 37h1v1h-1zM44 37h1v1h-1zM49 37h1v1h-1zM51 37h1v1h-1zM54 37h1v1h-1zM56 37h1v1h-1zM58 37h1v1h-1zM63 37h1v1h-1zM41 38h1v1h-1zM0 39h1v1h-1zM14 39h1v1h-1zM16 39h1v1h-1zM21 39h1v1h-1zM23 39h1v1h-1zM32 39h1v1h-1zM34 39h1v1h-1zM37 39h1v1h-1zM47 39h1v1h-1zM50 39h1v1h-1zM59 39h1v1h-1zM10 40h1v1h-1zM33 40h1v1h-1zM36 40h1v1h-1zM56 40h1v1h-1zM60 40h1v1h-1zM5 41h1v1h-1zM12 41h1v1h-1zM48 41h1v1h-1zM50 41h1v1h-1zM53 41h1v1h-1zM59 41h1v1h-1zM62 41h1v1h-1zM12 42h1v1h-1zM18 42h1v1h-1zM37 42h1v1h-1zM41 42h1v1h-1zM50 42h1v1h-1zM52 42h1v1h-1zM19 43h1v1h-1zM22 43h1v1h-1zM27 43h1v1h-1zM36 43h1v1h-1zM38 43h1v1h-1zM40 43h1v1h-1zM47 43h1v1h-1zM49 43h1v1h-1zM57 43h1v1h-1zM59 43h1v1h-1zM11 44h1v1h-1zM26 44h1v1h-1zM54 44h1v1h-1zM0 45h1v1h-1zM12 45h1v1h-1zM20 45h1v1h-1zM23 45h1v1h-1zM25 45h1v1h-1zM35 45h1v1h-1zM52 45h1v1h-1zM0 46h1v1h-1zM13 46h1v1h-1zM53 46h1v1h-1zM60 46h1v1h-1zM14 47h1v1h-1zM22 47h1v1h-1zM24 47h1v1h-1zM29 47h1v1h-1zM31 47h1v1h-1zM33 47h1v1h-1zM35 47h1v1h-1zM43 47h1v1h-1zM54 47h1v1h-1zM6 48h1v1h-1zM9 48h1v1h-1zM13 48h1v1h-1zM15 48h1v1h-1zM20 48h1v1h-1zM23 48h1v1h-1zM37 48h1v1h-1zM51 48h1v1h-1zM0 49h1v1h-1zM3 49h1v1h-1zM5 49h1v1h-1zM14 49h1v1h-1zM32 49h1v1h-1zM47 49h1v1h-1zM55 49h1v1h-1zM57 49h1v1h-1zM63 49h1v1h-1zM8 50h1v1h-1zM10 50h1v1h-1zM21 50h1v1h-1zM38 50h1v1h-1zM50 50h1v1h-1zM52 50h1v1h-1zM11 51h1v1h-1zM19 51h1v1h-1zM27 51h1v1h-1zM29 51h1v1h-1zM36 51h1v1h-1zM39 51h1v1h-1zM43 51h1v1h-1zM54 51h1v1h-1zM57 51h1v1h-1zM0 52h1v1h-1zM8 52h1v1h-1zM21 52h1v1h-1zM24 52h1v1h-1zM29 52h1v1h-1zM38 52h1v1h-1zM42 52h1v1h-1zM47 52h1v1h-1zM50 52h1v1h-1zM63 52h1v1h-1zM1 53h1v1h-1zM10 53h1v1h-1zM16 53h1v1h-1zM31 53h1v1h-1zM39 53h1v1h-1zM49 53h1v1h-1zM51 53h1v1h-1zM53 53h1v1h-1zM55 53h1v1h-1zM17 54h1v1h-1zM22 54h1v1h-1zM25 54h1v1h-1zM35 54h1v1h-1zM45 54h1v1h-1zM48 54h1v1h-1zM56 54h1v1h-1zM62 54h1v1h-1zM6 55h1v1h-1zM9 55h1v1h-1zM23 55h1v1h-1zM41 55h1v1h-1zM44 55h1v1h-1zM11 56h1v1h-1zM21 56h1v1h-1zM36 56h1v1h-1zM41 56h1v1h-1zM43 56h1v1h-1zM53 56h1v1h-1zM2 57h1v1h-1zM7 57h1v1h-1zM24 57h1v1h-1zM35 57h1v1h-1zM38 57h1v1h-1zM51 57h1v1h-1zM26 58h1v1h-1zM37 58h1v1h-1zM40 58h1v1h-1zM42 58h1v1h-1zM47 58h1v1h-1zM50 58h1v1h-1zM60 58h1v1h-1zM4 59h1v1h-1zM12 59h1v1h-1zM28 59h1v1h-1zM43 59h1v1h-1zM46 59h1v1h-1zM5 60h1v1h-1zM7 60h1v1h-1zM36 60h1v1h-1zM42 60h1v1h-1zM63 60h1v1h-1zM3 61h1v1h-1zM8 61h1v1h-1zM10 61h1v1h-1zM20 61h1v1h-1zM22 61h1v1h-1zM37 61h1v1h-1zM45 61h1v1h-1zM51 61h1v1h-1zM59 61h1v1h-1zM11 62h1v1h-1zM30 62h1v1h-1zM54 62h1v1h-1zM63 62h1v1h-1zM0 63h1v1h-1zM8 63h1v1h-1zM12 63h1v1h-1zM19 63h1v1h-1zM23 63h1v1h-1zM26 63h1v1h-1zM46 63h1v1h-1zM52 63h1v1h-1zM60 63h1v1h-1z"/><path fill="#CCCCCC" d="M56 0h1v1h-1zM37 1h1v1h-1zM39 1h1v1h-1zM57 1h1v1h-1zM6 2h1v1h-1zM14 2h1v1h-1zM42 2h1v1h-1zM12 3h1v1h-1zM30 3h1v1h-1zM5 4h1v1h-1zM7 4h1v1h-1zM21 4h1v1h-1zM47 4h1v1h-1zM51 4h1v1h-1zM9 5h1v1h-1zM46 5h1v1h-1zM34 6h1v1h-1zM41 6h1v1h-1zM48 6h1v1h-1zM58 6h1v1h-1zM33 7h1v1h-1zM54 7h1v1h-1zM63 8h1v1h-1zM13 9h1v1h-1zM19 9h1v1h-1zM39 9h1v1h-1zM61 9h1v1h-1zM35 10h1v1h-1zM50 10h1v1h-1zM1 11h1v1h-1zM9 11h1v1h-1zM25 11h1v1h-1zM36 11h1v1h-1zM11 12h1v1h-1zM21 12h1v1h-1zM35 12h1v1h-1zM61 12h1v1h-1zM8 13h1v1h-1zM25 14h1v1h-1zM45 14h1v1h-1zM49 14h1v1h-1zM54 14h1v1h-1zM8 15h1v1h-1zM11 16h1v1h-1zM16 16h1v1h-1zM28 17h1v1h-1zM40 17h1v1h-1zM44 17h1v1h-1zM63 17h1v1h-1zM0 18h1v1h-1zM8 18h1v1h-1zM10 18h1v1h-1zM21 19h1v1h-1zM25 19h1v1h-1zM33 19h1v1h-1zM35 19h1v1h-1zM2 20h1v1h-1zM44 21h1v1h-1zM53 21h1v1h-1zM62 21h1v1h-1zM48 22h1v1h-1zM54 22h1v1h-1zM26 23h1v1h-1zM28 23h1v1h-1zM36 23h1v1h-1zM3 24h1v1h-1zM8 24h1v1h-1zM53 24h1v1h-1zM12 25h1v1h-1zM49 25h1v1h-1zM3 26h1v1h-1zM20 26h1v1h-1zM46 26h1v1h-1zM4 27h1v1h-1zM23 27h1v1h-1zM25 27h1v1h-1zM40 27h1v1h-1zM43 27h1v1h-1zM45 27h1v1h-1zM2 29h1v1h-1zM16 29h1v1h-1zM27 29h1v1h-1zM33 29h1v1h-1zM35 29h1v1h-1zM37 29h1v1h-1zM40 29h1v1h-1zM48 29h1v1h-1zM63 29h1v1h-1zM10 30h1v1h-1zM41 30h1v1h-1zM60 30h1v1h-1zM62 30h1v1h-1zM4 31h1v1h-1zM40 31h1v1h-1zM52 31h1v1h-1zM63 31h1v1h-1zM5 32h1v1h-1zM20 32h1v1h-1zM39 32h1v1h-1zM51 33h1v1h-1zM53 33h1v1h-1zM21 34h1v1h-1zM27 34h1v1h-1zM39 34h1v1h-1zM62 34h1v1h-1zM1 35h1v1h-1zM16 35h1v1h-1zM31 35h1v1h-1zM59 35h1v1h-1zM14 36h1v1h-1zM4 37h1v1h-1zM61 37h1v1h-1zM13 38h1v1h-1zM18 38h1v1h-1zM19 39h1v1h-1zM40 39h1v1h-1zM42 39h1v1h-1zM53 39h1v1h-1zM56 39h1v1h-1zM8 40h1v1h-1zM13 40h1v1h-1zM16 40h1v1h-1zM18 40h1v1h-1zM27 40h1v1h-1zM39 40h1v1h-1zM54 40h1v1h-1zM58 40h1v1h-1zM19 41h1v1h-1zM56 41h1v1h-1zM2 43h1v1h-1zM10 43h1v1h-1zM30 43h1v1h-1zM45 43h1v1h-1zM55 43h1v1h-1zM21 44h1v1h-1zM46 44h1v1h-1zM37 45h1v1h-1zM39 45h1v1h-1zM61 45h1v1h-1zM5 46h1v1h-1zM22 46h1v1h-1zM25 46h1v1h-1zM36 46h1v1h-1zM56 46h1v1h-1zM58 46h1v1h-1zM63 46h1v1h-1zM4 47h1v1h-1zM27 47h1v1h-1zM1 48h1v1h-1zM11 48h1v1h-1zM28 48h1v1h-1zM31 48h1v1h-1zM41 48h1v1h-1zM48 48h1v1h-1zM45 49h1v1h-1zM60 49h1v1h-1zM62 50h1v1h-1zM16 51h1v1h-1zM22 51h1v1h-1zM59 51h1v1h-1zM6 52h1v1h-1zM26 52h1v1h-1zM58 52h1v1h-1zM19 53h1v1h-1zM40 54h1v1h-1zM20 55h1v1h-1zM31 55h1v1h-1zM36 55h1v1h-1zM47 55h1v1h-1zM54 55h1v1h-1zM8 56h1v1h-1zM38 56h1v1h-1zM16 57h1v1h-1zM54 57h1v1h-1zM1 58h1v1h-1zM58 58h1v1h-1zM26 59h1v1h-1zM30 59h1v1h-1zM51 59h1v1h-1zM2 60h1v1h-1zM9 60h1v1h-1zM45 60h1v1h-1zM50 60h1v1h-1zM5 61h1v1h-1zM43 61h1v1h-1zM62 61h1v1h-1zM6 62h1v1h-1zM14 62h1v1h-1zM32 62h1v1h-1zM34 62h1v1h-1zM57 62h1v1h-1zM5 63h1v1h-1zM55 63h1v1h-1z"/></pattern>
<pattern id="g" x="9" y="39" width="24" height="24" patternUnits="userSpaceOnUse" shape-rendering="crispEdges"><rect width="24" height="24" fill="#CBD3CC"/><path fill="#BB88CC" d="M19 0h1v1h-1zM21 0h1v1h-1zM3 1h1v1h-1zM5 1h1v1h-1zM14 1h1v1h-1zM11 2h1v1h-1zM19 3h1v1h-1zM18 4h1v1h-1zM23 4h1v1h-1zM2 5h1v1h-1zM12 5h1v1h-1zM14 6h1v1h-1zM20 6h1v1h-1zM8 7h1v1h-1zM5 8h1v1h-1zM21 9h1v1h-1zM8 10h1v1h-1zM12 11h1v1h-1zM13 12h1v1h-1zM18 12h1v1h-1zM6 13h1v1h-1zM8 13h1v1h-1zM10 13h1v1h-1zM21 13h1v1h-1zM8 15h1v1h-1zM15 15h1v1h-1zM17 17h1v1h-1zM22 17h1v1h-1zM1 20h1v1h-1zM12 20h1v1h-1zM23 20h1v1h-1zM10 21h1v1h-1zM18 22h1v1h-1z"/><path fill="#CCCCFF" d="M7 0h1v1h-1zM23 1h1v1h-1zM0 2h1v1h-1zM9 3h1v1h-1zM4 5h1v1h-1zM8 5h1v1h-1zM16 7h1v1h-1zM17 9h1v1h-1zM6 11h1v1h-1zM17 11h1v1h-1zM0 12h1v1h-1zM5 12h1v1h-1zM9 12h1v1h-1zM15 12h1v1h-1zM23 13h1v1h-1zM11 14h1v1h-1zM2 15h1v1h-1zM10 16h1v1h-1zM23 18h1v1h-1zM3 19h1v1h-1zM17 19h1v1h-1zM19 20h1v1h-1zM14 21h1v1h-1zM4 22h1v1h-1zM8 22h1v1h-1zM17 23h1v1h-1z"/><path fill="#FFCCBB" d="M1 0h1v1h-1zM4 0h1v1h-1zM11 0h1v1h-1zM15 2h1v1h-1zM22 3h1v1h-1zM1 4h1v1h-1zM16 4h1v1h-1zM20 4h1v1h-1zM23 6h1v1h-1zM12 7h1v1h-1zM14 8h1v1h-1zM7 9h1v1h-1zM5 10h1v1h-1zM9 14h1v1h-1zM5 15h1v1h-1zM18 16h1v1h-1zM2 17h1v1h-1zM7 17h1v1h-1zM11 17h1v1h-1zM8 18h1v1h-1zM18 18h1v1h-1zM20 18h1v1h-1zM13 19h1v1h-1zM5 20h1v1h-1zM20 21h1v1h-1zM1 22h1v1h-1zM5 23h1v1h-1z"/></pattern><pattern id="c" x="0" y="0" width="2" height="2" patternUnits="userSpaceOnUse" shape-rendering="crispEdges"><rect width="2" height="2" fill="#CBD3CC"/><rect width="1" height="1" fill="#DCC8EE"/><rect x="1" y="1" width="1" height="1" fill="#CCD8F0"/></pattern></defs>
<rect x="9" y="39" width="993" height="537" fill="url(#d)"/>
<g shape-rendering="crispEdges">
<rect x="1002" y="39" width="17" height="537" fill="url(#g)"/>
<rect x="9" y="576" width="993" height="17" fill="url(#g)"/>
<rect x="1002" y="576" width="17" height="17" fill="url(#c)"/>
<rect x="1003.5" y="40.5" width="14" height="14" fill="#fff" stroke="#A3ADA3" stroke-width="1"/>
<rect x="1003.5" y="55.5" width="14" height="16" fill="#fff" stroke="#A3ADA3" stroke-width="1"/>
<rect x="1003.5" y="559.5" width="14" height="14" fill="#fff" stroke="#A3ADA3" stroke-width="1"/>
<rect x="11.5" y="577.5" width="14" height="14" fill="#fff" stroke="#A3ADA3" stroke-width="1"/>
<rect x="27.5" y="577.5" width="15" height="14" fill="#fff" stroke="#A3ADA3" stroke-width="1"/>
<rect x="987.5" y="577.5" width="14" height="14" fill="#fff" stroke="#A3ADA3" stroke-width="1"/>
</g>
<path fill="#555" d="M1007 49h7l-3.5-4z"/>
<path fill="#555" d="M1007 565h7l-3.5 4z"/>
<path fill="#555" d="M20 580.5v7l-4-3.5z"/>
<path fill="#555" d="M992.5 580.5v7l4-3.5z"/>
<g stroke="#1a1a1a" stroke-width="1" fill="none"><path d="M899 21.5h10" shape-rendering="crispEdges"/><rect x="945.5" y="16.5" width="9" height="9" shape-rendering="crispEdges"/><path d="M991 16l10 10M1001 16l-10 10"/></g>
<g shape-rendering="crispEdges"><rect x="19" y="17" width="6" height="7" fill="#14144E"/><rect x="19" y="17" width="6" height="2" fill="#3A66F0"/><rect x="19" y="19" width="1" height="4" fill="#7486DC"/><rect x="20" y="19" width="4" height="4" fill="#fff"/><rect x="21" y="21" width="2" height="1" fill="#9C9CC0"/><rect x="29" y="13" width="6" height="7" fill="#14144E"/><rect x="29" y="13" width="6" height="2" fill="#3A66F0"/><rect x="29" y="15" width="1" height="4" fill="#7486DC"/><rect x="30" y="15" width="4" height="4" fill="#fff"/><rect x="31" y="17" width="2" height="1" fill="#9C9CC0"/><rect x="28" y="21" width="6" height="7" fill="#14144E"/><rect x="28" y="21" width="6" height="2" fill="#3A66F0"/><rect x="28" y="23" width="1" height="4" fill="#7486DC"/><rect x="29" y="23" width="4" height="4" fill="#fff"/><rect x="30" y="25" width="2" height="1" fill="#9C9CC0"/></g>
<path d="M25 20l4-2.5M25 21l3.5 3" stroke="#1E3C9A" stroke-width="1.2" fill="none"/></svg>
<div class="t" style="left:75px;top:118px;width:144px;height:117px"><div class="h" style="letter-spacing:-0.19px">Patients</div><div class="u"></div><div class="f" style="top:30px;letter-spacing:0.09px">PatientID</div><div class="f" style="top:48px;letter-spacing:-0.08px">FirstName</div><div class="f" style="top:66px;letter-spacing:-0.24px">LastName</div><div class="f" style="top:84px;letter-spacing:-0.2px">DoB</div></div>
<div class="t" style="left:322px;top:118px;width:144px;height:106px"><div class="h" style="letter-spacing:-0.07px">PatientTreatments</div><div class="u"></div><div class="f" style="top:30px;letter-spacing:0.09px">PatientID</div><div class="f" style="top:48px;letter-spacing:0.04px">TreatmentID</div><div class="f" style="top:66px;letter-spacing:0.06px">StartDate</div></div>
<div class="t" style="left:596px;top:118px;width:179px;height:144px"><div class="h" style="letter-spacing:0.02px">PatientTreatmentProgramme</div><div class="u"></div><div class="f" style="top:30px;letter-spacing:0.09px">PatientID</div><div class="f" style="top:48px;letter-spacing:0.04px">TreatmentID</div><div class="f" style="top:66px;letter-spacing:0.02px">ProcedureID</div><div class="f" style="top:84px;letter-spacing:0.06px">StartDate</div><div class="f" style="top:102px;letter-spacing:0.21px">DateScheduled</div><div class="f" style="top:120px;letter-spacing:0.32px">DateAdministered</div></div>
<div class="t" style="left:137px;top:291px;width:148px;height:96px"><div class="h" style="letter-spacing:-0.12px">Treatments</div><div class="u"></div><div class="f" style="top:30px;letter-spacing:0.04px">TreatmentID</div><div class="f" style="top:48px;letter-spacing:0.07px">Treatment</div></div>
<div class="t" style="left:390px;top:291px;width:144px;height:115px"><div class="h" style="letter-spacing:-0.12px">TreatmentSchedule</div><div class="u"></div><div class="f" style="top:30px;letter-spacing:0.04px">TreatmentID</div><div class="f" style="top:48px;letter-spacing:0.02px">ProcedureID</div><div class="f" style="top:66px;letter-spacing:0.28px">IntervalValue</div><div class="f" style="top:84px;letter-spacing:0.12px">Interval</div></div>
<div class="t" style="left:574px;top:385px;width:144px;height:144px"><div class="s" style="top:31px"></div><div class="h" style="letter-spacing:-0.17px">Intervals</div><div class="u"></div><div class="f" style="top:30px;letter-spacing:0.08px">IntervalText</div><div class="f" style="top:48px;letter-spacing:0.12px">Interval</div><div class="f" style="top:66px;letter-spacing:0.25px">IntervalIndex</div></div>
<div class="t" style="left:816px;top:306px;width:160px;height:112px"><div class="h" style="letter-spacing:-0.3px">Procedures</div><div class="u"></div><div class="f" style="top:30px;letter-spacing:0.02px">ProcedureID</div><div class="f" style="top:48px;letter-spacing:0.12px">TreatmentProcedure</div></div>
<svg width="1028" height="604" viewBox="0 0 1028 604"><rect x="223" y="157" width="15" height="3" fill="#333" shape-rendering="crispEdges"/>
<rect x="303" y="157" width="15" height="3" fill="#333" shape-rendering="crispEdges"/>
<path d="M238 158.5L303 158.5" stroke="#3a3a3a" stroke-width="1" fill="none"/>
<text x="229.6" y="153.8" font-family="DejaVu Sans,sans-serif" font-weight="bold" font-size="7.4" fill="#1c1c1c" stroke="#1c1c1c" stroke-width="0.8">1</text>
<text transform="translate(301.2 154.8) scale(1.62 1)" font-family="DejaVu Sans,sans-serif" font-weight="bold" font-size="12" fill="#1c1c1c" stroke="#1c1c1c" stroke-width="0.25">∞</text>
<rect x="470" y="157" width="15" height="3" fill="#333" shape-rendering="crispEdges"/>
<rect x="577" y="157" width="15" height="3" fill="#333" shape-rendering="crispEdges"/>
<path d="M485 158.5L577 158.5" stroke="#3a3a3a" stroke-width="1" fill="none"/>
<text x="476.6" y="153.8" font-family="DejaVu Sans,sans-serif" font-weight="bold" font-size="7.4" fill="#1c1c1c" stroke="#1c1c1c" stroke-width="0.8">1</text>
<text transform="translate(575.2 154.8) scale(1.62 1)" font-family="DejaVu Sans,sans-serif" font-weight="bold" font-size="12" fill="#1c1c1c" stroke="#1c1c1c" stroke-width="0.25">∞</text>
<rect x="470" y="175" width="15" height="3" fill="#333" shape-rendering="crispEdges"/>
<rect x="577" y="175" width="15" height="3" fill="#333" shape-rendering="crispEdges"/>
<path d="M485 176.5L577 176.5" stroke="#3a3a3a" stroke-width="1" fill="none"/>
<text x="476.6" y="171.8" font-family="DejaVu Sans,sans-serif" font-weight="bold" font-size="7.4" fill="#1c1c1c" stroke="#1c1c1c" stroke-width="0.8">1</text>
<text transform="translate(575.2 172.8) scale(1.62 1)" font-family="DejaVu Sans,sans-serif" font-weight="bold" font-size="12" fill="#1c1c1c" stroke="#1c1c1c" stroke-width="0.25">∞</text>
<rect x="470" y="193" width="15" height="3" fill="#333" shape-rendering="crispEdges"/>
<rect x="577" y="211" width="15" height="3" fill="#333" shape-rendering="crispEdges"/>
<path d="M485 194.5L577 212.5" stroke="#3a3a3a" stroke-width="1" fill="none"/>
<text x="476.6" y="189.8" font-family="DejaVu Sans,sans-serif" font-weight="bold" font-size="7.4" fill="#1c1c1c" stroke="#1c1c1c" stroke-width="0.8">1</text>
<text transform="translate(575.2 208.8) scale(1.62 1)" font-family="DejaVu Sans,sans-serif" font-weight="bold" font-size="12" fill="#1c1c1c" stroke="#1c1c1c" stroke-width="0.25">∞</text>
<rect x="289" y="330" width="15" height="3" fill="#333" shape-rendering="crispEdges"/>
<rect x="303" y="175" width="15" height="3" fill="#333" shape-rendering="crispEdges"/>
<path d="M304.5 331L303.5 177" stroke="#3a3a3a" stroke-width="1" fill="none"/>
<text transform="translate(303.2 172.8) scale(1.62 1)" font-family="DejaVu Sans,sans-serif" font-weight="bold" font-size="12" fill="#1c1c1c" stroke="#1c1c1c" stroke-width="0.25">∞</text>
<rect x="371" y="330" width="15" height="3" fill="#333" shape-rendering="crispEdges"/>
<path d="M304 331.5L371 331.5" stroke="#3a3a3a" stroke-width="1" fill="none"/>
<text transform="translate(369.2 327.8) scale(1.62 1)" font-family="DejaVu Sans,sans-serif" font-weight="bold" font-size="12" fill="#1c1c1c" stroke="#1c1c1c" stroke-width="0.25">∞</text>
<text x="292.6" y="326.8" font-family="DejaVu Sans,sans-serif" font-weight="bold" font-size="7.4" fill="#1c1c1c" stroke="#1c1c1c" stroke-width="0.8" letter-spacing="-2.15">11</text>
<rect x="779" y="193" width="15" height="3" fill="#333" shape-rendering="crispEdges"/>
<rect x="797" y="345" width="15" height="3" fill="#333" shape-rendering="crispEdges"/>
<path d="M794.5 195L797.5 346" stroke="#3a3a3a" stroke-width="1" fill="none"/>
<text transform="translate(779.2 190.8) scale(1.62 1)" font-family="DejaVu Sans,sans-serif" font-weight="bold" font-size="12" fill="#1c1c1c" stroke="#1c1c1c" stroke-width="0.25">∞</text>
<text x="800.6" y="341.8" font-family="DejaVu Sans,sans-serif" font-weight="bold" font-size="7.4" fill="#1c1c1c" stroke="#1c1c1c" stroke-width="0.8">1</text>
<rect x="538" y="348" width="15" height="3" fill="#333" shape-rendering="crispEdges"/>
<path d="M553 349.5L797 346.5" stroke="#3a3a3a" stroke-width="1" fill="none"/>
<text transform="translate(538.2 345.8) scale(1.62 1)" font-family="DejaVu Sans,sans-serif" font-weight="bold" font-size="12" fill="#1c1c1c" stroke="#1c1c1c" stroke-width="0.25">∞</text>
<rect x="538" y="384" width="15" height="3" fill="#333" shape-rendering="crispEdges"/>
<rect x="555" y="442" width="15" height="3" fill="#333" shape-rendering="crispEdges"/>
<path d="M553.5 386L555.5 443" stroke="#3a3a3a" stroke-width="1" fill="none"/>
<text transform="translate(538.2 381.8) scale(1.62 1)" font-family="DejaVu Sans,sans-serif" font-weight="bold" font-size="12" fill="#1c1c1c" stroke="#1c1c1c" stroke-width="0.25">∞</text>
<text x="558.6" y="438.8" font-family="DejaVu Sans,sans-serif" font-weight="bold" font-size="7.4" fill="#1c1c1c" stroke="#1c1c1c" stroke-width="0.8">1</text>
<g transform="translate(97 151)" fill="#1f2420" shape-rendering="crispEdges"><rect x="0" y="0" width="5" height="4"/><rect x="2" y="1" width="1" height="1" fill="#fff"/><rect x="1" y="4" width="3" height="1"/><rect x="1" y="5" width="1" height="5"/><rect x="3" y="5" width="1" height="5"/><rect x="4" y="5" width="1" height="1"/><rect x="4" y="7" width="1" height="1"/><rect x="4" y="9" width="1" height="1"/><rect x="2" y="10" width="1" height="1"/></g>
<g transform="translate(344 151)" fill="#1f2420" shape-rendering="crispEdges"><rect x="0" y="0" width="5" height="4"/><rect x="2" y="1" width="1" height="1" fill="#fff"/><rect x="1" y="4" width="3" height="1"/><rect x="1" y="5" width="1" height="5"/><rect x="3" y="5" width="1" height="5"/><rect x="4" y="5" width="1" height="1"/><rect x="4" y="7" width="1" height="1"/><rect x="4" y="9" width="1" height="1"/><rect x="2" y="10" width="1" height="1"/></g>
<g transform="translate(344 169)" fill="#1f2420" shape-rendering="crispEdges"><rect x="0" y="0" width="5" height="4"/><rect x="2" y="1" width="1" height="1" fill="#fff"/><rect x="1" y="4" width="3" height="1"/><rect x="1" y="5" width="1" height="5"/><rect x="3" y="5" width="1" height="5"/><rect x="4" y="5" width="1" height="1"/><rect x="4" y="7" width="1" height="1"/><rect x="4" y="9" width="1" height="1"/><rect x="2" y="10" width="1" height="1"/></g>
<g transform="translate(344 187)" fill="#1f2420" shape-rendering="crispEdges"><rect x="0" y="0" width="5" height="4"/><rect x="2" y="1" width="1" height="1" fill="#fff"/><rect x="1" y="4" width="3" height="1"/><rect x="1" y="5" width="1" height="5"/><rect x="3" y="5" width="1" height="5"/><rect x="4" y="5" width="1" height="1"/><rect x="4" y="7" width="1" height="1"/><rect x="4" y="9" width="1" height="1"/><rect x="2" y="10" width="1" height="1"/></g>
<g transform="translate(618 151)" fill="#1f2420" shape-rendering="crispEdges"><rect x="0" y="0" width="5" height="4"/><rect x="2" y="1" width="1" height="1" fill="#fff"/><rect x="1" y="4" width="3" height="1"/><rect x="1" y="5" width="1" height="5"/><rect x="3" y="5" width="1" height="5"/><rect x="4" y="5" width="1" height="1"/><rect x="4" y="7" width="1" height="1"/><rect x="4" y="9" width="1" height="1"/><rect x="2" y="10" width="1" height="1"/></g>
<g transform="translate(618 169)" fill="#1f2420" shape-rendering="crispEdges"><rect x="0" y="0" width="5" height="4"/><rect x="2" y="1" width="1" height="1" fill="#fff"/><rect x="1" y="4" width="3" height="1"/><rect x="1" y="5" width="1" height="5"/><rect x="3" y="5" width="1" height="5"/><rect x="4" y="5" width="1" height="1"/><rect x="4" y="7" width="1" height="1"/><rect x="4" y="9" width="1" height="1"/><rect x="2" y="10" width="1" height="1"/></g>
<g transform="translate(618 187)" fill="#1f2420" shape-rendering="crispEdges"><rect x="0" y="0" width="5" height="4"/><rect x="2" y="1" width="1" height="1" fill="#fff"/><rect x="1" y="4" width="3" height="1"/><rect x="1" y="5" width="1" height="5"/><rect x="3" y="5" width="1" height="5"/><rect x="4" y="5" width="1" height="1"/><rect x="4" y="7" width="1" height="1"/><rect x="4" y="9" width="1" height="1"/><rect x="2" y="10" width="1" height="1"/></g>
<g transform="translate(618 205)" fill="#1f2420" shape-rendering="crispEdges"><rect x="0" y="0" width="5" height="4"/><rect x="2" y="1" width="1" height="1" fill="#fff"/><rect x="1" y="4" width="3" height="1"/><rect x="1" y="5" width="1" height="5"/><rect x="3" y="5" width="1" height="5"/><rect x="4" y="5" width="1" height="1"/><rect x="4" y="7" width="1" height="1"/><rect x="4" y="9" width="1" height="1"/><rect x="2" y="10" width="1" height="1"/></g>
<g transform="translate(618 223)" fill="#1f2420" shape-rendering="crispEdges"><rect x="0" y="0" width="5" height="4"/><rect x="2" y="1" width="1" height="1" fill="#fff"/><rect x="1" y="4" width="3" height="1"/><rect x="1" y="5" width="1" height="5"/><rect x="3" y="5" width="1" height="5"/><rect x="4" y="5" width="1" height="1"/><rect x="4" y="7" width="1" height="1"/><rect x="4" y="9" width="1" height="1"/><rect x="2" y="10" width="1" height="1"/></g>
<g transform="translate(159 324)" fill="#1f2420" shape-rendering="crispEdges"><rect x="0" y="0" width="5" height="4"/><rect x="2" y="1" width="1" height="1" fill="#fff"/><rect x="1" y="4" width="3" height="1"/><rect x="1" y="5" width="1" height="5"/><rect x="3" y="5" width="1" height="5"/><rect x="4" y="5" width="1" height="1"/><rect x="4" y="7" width="1" height="1"/><rect x="4" y="9" width="1" height="1"/><rect x="2" y="10" width="1" height="1"/></g>
<g transform="translate(412 324)" fill="#1f2420" shape-rendering="crispEdges"><rect x="0" y="0" width="5" height="4"/><rect x="2" y="1" width="1" height="1" fill="#fff"/><rect x="1" y="4" width="3" height="1"/><rect x="1" y="5" width="1" height="5"/><rect x="3" y="5" width="1" height="5"/><rect x="4" y="5" width="1" height="1"/><rect x="4" y="7" width="1" height="1"/><rect x="4" y="9" width="1" height="1"/><rect x="2" y="10" width="1" height="1"/></g>
<g transform="translate(412 342)" fill="#1f2420" shape-rendering="crispEdges"><rect x="0" y="0" width="5" height="4"/><rect x="2" y="1" width="1" height="1" fill="#fff"/><rect x="1" y="4" width="3" height="1"/><rect x="1" y="5" width="1" height="5"/><rect x="3" y="5" width="1" height="5"/><rect x="4" y="5" width="1" height="1"/><rect x="4" y="7" width="1" height="1"/><rect x="4" y="9" width="1" height="1"/><rect x="2" y="10" width="1" height="1"/></g>
<g transform="translate(412 360)" fill="#1f2420" shape-rendering="crispEdges"><rect x="0" y="0" width="5" height="4"/><rect x="2" y="1" width="1" height="1" fill="#fff"/><rect x="1" y="4" width="3" height="1"/><rect x="1" y="5" width="1" height="5"/><rect x="3" y="5" width="1" height="5"/><rect x="4" y="5" width="1" height="1"/><rect x="4" y="7" width="1" height="1"/><rect x="4" y="9" width="1" height="1"/><rect x="2" y="10" width="1" height="1"/></g>
<g transform="translate(596 436)" fill="#1f2420" shape-rendering="crispEdges"><rect x="0" y="0" width="5" height="4"/><rect x="2" y="1" width="1" height="1" fill="#fff"/><rect x="1" y="4" width="3" height="1"/><rect x="1" y="5" width="1" height="5"/><rect x="3" y="5" width="1" height="5"/><rect x="4" y="5" width="1" height="1"/><rect x="4" y="7" width="1" height="1"/><rect x="4" y="9" width="1" height="1"/><rect x="2" y="10" width="1" height="1"/></g>
<g transform="translate(838 339)" fill="#1f2420" shape-rendering="crispEdges"><rect x="0" y="0" width="5" height="4"/><rect x="2" y="1" width="1" height="1" fill="#fff"/><rect x="1" y="4" width="3" height="1"/><rect x="1" y="5" width="1" height="5"/><rect x="3" y="5" width="1" height="5"/><rect x="4" y="5" width="1" height="1"/><rect x="4" y="7" width="1" height="1"/><rect x="4" y="9" width="1" height="1"/><rect x="2" y="10" width="1" height="1"/></g>
</svg>
</body></html>
